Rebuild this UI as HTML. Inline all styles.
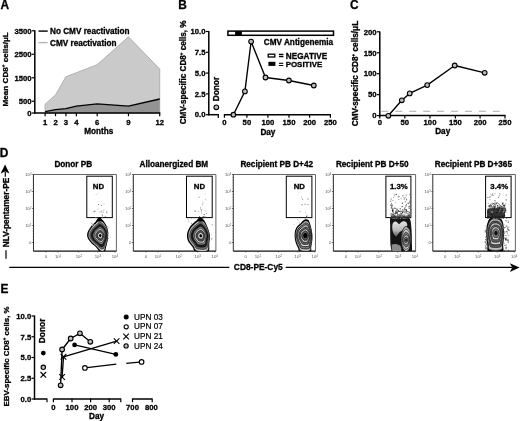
<!DOCTYPE html>
<html><head><meta charset="utf-8"><style>
html,body{margin:0;padding:0;background:#fff;}
svg{display:block;}
text{font-family:"Liberation Sans",sans-serif;}
text[font-weight=bold]{stroke:#000;stroke-width:0.3px;}
text[font-weight=normal]{stroke:#000;stroke-width:0.2px;}
</style></head><body>
<svg width="520" height="421" viewBox="0 0 520 421">
<defs><filter id="gs" x="0" y="0" width="100%" height="100%" color-interpolation-filters="sRGB"><feColorMatrix type="saturate" values="0"/></filter></defs>
<rect width="520" height="421" fill="#fff"/>
<g filter="url(#gs)">
<rect width="520" height="421" fill="#fff"/>
<text x="0.5" y="8.7" font-size="11.9" text-anchor="start" font-weight="bold" >A</text>
<polygon points="45.1,113 45.1,104.2 55.52,94.9 65.94,76.7 76.36,72.7 97.2,64.7 128.46,36.8 159.72,69.1 159.72,113" fill="#cacaca" stroke="#aaa" stroke-width="0.9" stroke-linejoin="round"/>
<polygon points="45.1,113 45.1,111.6 55.52,109.7 65.94,108.7 76.36,106.1 97.2,103.9 128.46,106.2 159.72,99 159.72,113" fill="#939393"/>
<polyline points="45.1,111.6 55.52,109.7 65.94,108.7 76.36,106.1 97.2,103.9 128.46,106.2 159.72,99" stroke="#000" stroke-width="1.3" fill="none" stroke-linejoin="round" />
<line x1="34.8" y1="30.2" x2="34.8" y2="113.6" stroke="#000" stroke-width="1.5" />
<line x1="34.2" y1="113" x2="160.32" y2="113" stroke="#000" stroke-width="1.5" />
<line x1="31.8" y1="30.75" x2="34.8" y2="30.75" stroke="#000" stroke-width="1.2" />
<text transform="translate(31.5,33.5) scale(1.0,1)" font-size="7.7" text-anchor="end" font-weight="bold" >3500</text>
<line x1="31.8" y1="54.25" x2="34.8" y2="54.25" stroke="#000" stroke-width="1.2" />
<text transform="translate(31.5,57) scale(1.0,1)" font-size="7.7" text-anchor="end" font-weight="bold" >2500</text>
<line x1="31.8" y1="77.75" x2="34.8" y2="77.75" stroke="#000" stroke-width="1.2" />
<text transform="translate(31.5,80.5) scale(1.0,1)" font-size="7.7" text-anchor="end" font-weight="bold" >1500</text>
<line x1="31.8" y1="101.25" x2="34.8" y2="101.25" stroke="#000" stroke-width="1.2" />
<text transform="translate(31.5,104) scale(1.0,1)" font-size="7.7" text-anchor="end" font-weight="bold" >500</text>
<line x1="31.8" y1="113" x2="34.8" y2="113" stroke="#000" stroke-width="1.2" />
<text transform="translate(31.5,115.75) scale(1.0,1)" font-size="7.7" text-anchor="end" font-weight="bold" >0</text>
<line x1="45.1" y1="113" x2="45.1" y2="116.2" stroke="#000" stroke-width="1.2" />
<text transform="translate(45.1,124.6) scale(1.0,1)" font-size="7.7" text-anchor="middle" font-weight="bold" >1</text>
<line x1="55.52" y1="113" x2="55.52" y2="116.2" stroke="#000" stroke-width="1.2" />
<text transform="translate(55.52,124.6) scale(1.0,1)" font-size="7.7" text-anchor="middle" font-weight="bold" >2</text>
<line x1="65.94" y1="113" x2="65.94" y2="116.2" stroke="#000" stroke-width="1.2" />
<text transform="translate(65.94,124.6) scale(1.0,1)" font-size="7.7" text-anchor="middle" font-weight="bold" >3</text>
<line x1="76.36" y1="113" x2="76.36" y2="116.2" stroke="#000" stroke-width="1.2" />
<text transform="translate(76.36,124.6) scale(1.0,1)" font-size="7.7" text-anchor="middle" font-weight="bold" >4</text>
<line x1="97.2" y1="113" x2="97.2" y2="116.2" stroke="#000" stroke-width="1.2" />
<text transform="translate(97.2,124.6) scale(1.0,1)" font-size="7.7" text-anchor="middle" font-weight="bold" >6</text>
<line x1="128.46" y1="113" x2="128.46" y2="116.2" stroke="#000" stroke-width="1.2" />
<text transform="translate(128.46,124.6) scale(1.0,1)" font-size="7.7" text-anchor="middle" font-weight="bold" >9</text>
<line x1="159.72" y1="113" x2="159.72" y2="116.2" stroke="#000" stroke-width="1.2" />
<text transform="translate(159.72,124.6) scale(1.0,1)" font-size="7.7" text-anchor="middle" font-weight="bold" >12</text>
<text x="98.8" y="133.8" font-size="8.2" text-anchor="middle" font-weight="bold" >Months</text>
<text transform="translate(8.3,69.3) rotate(-90)" font-size="8.1" text-anchor="middle" font-weight="bold">Mean CD8<tspan font-size="4.5" dy="-3">+</tspan><tspan dy="3"> </tspan>cells/μL</text>
<line x1="38.5" y1="31.1" x2="47.7" y2="31.1" stroke="#000" stroke-width="1.4" />
<line x1="38.5" y1="42.6" x2="47.7" y2="42.6" stroke="#b4b4b4" stroke-width="1.4" />
<text x="50" y="34.4" font-size="8.2" text-anchor="start" font-weight="bold" >No CMV reactivation</text>
<text x="50" y="45.9" font-size="8.2" text-anchor="start" font-weight="bold" >CMV reactivation</text>
<text x="178.3" y="8.7" font-size="11.9" text-anchor="start" font-weight="bold" >B</text>
<line x1="208.8" y1="31" x2="208.8" y2="115.3" stroke="#000" stroke-width="1.5" />
<line x1="205.8" y1="31.5" x2="208.8" y2="31.5" stroke="#000" stroke-width="1.2" />
<text transform="translate(205.5,34.25) scale(1.0,1)" font-size="7.7" text-anchor="end" font-weight="bold" >10.0</text>
<line x1="205.8" y1="52.3" x2="208.8" y2="52.3" stroke="#000" stroke-width="1.2" />
<text transform="translate(205.5,55.05) scale(1.0,1)" font-size="7.7" text-anchor="end" font-weight="bold" >7.5</text>
<line x1="205.8" y1="73.1" x2="208.8" y2="73.1" stroke="#000" stroke-width="1.2" />
<text transform="translate(205.5,75.85) scale(1.0,1)" font-size="7.7" text-anchor="end" font-weight="bold" >5.0</text>
<line x1="205.8" y1="93.9" x2="208.8" y2="93.9" stroke="#000" stroke-width="1.2" />
<text transform="translate(205.5,96.65) scale(1.0,1)" font-size="7.7" text-anchor="end" font-weight="bold" >2.5</text>
<line x1="205.8" y1="114.7" x2="208.8" y2="114.7" stroke="#000" stroke-width="1.2" />
<text transform="translate(205.5,117.45) scale(1.0,1)" font-size="7.7" text-anchor="end" font-weight="bold" >0.0</text>
<line x1="208.2" y1="114.7" x2="218.3" y2="114.7" stroke="#000" stroke-width="1.5" />
<line x1="218.3" y1="114.1" x2="218.3" y2="117.9" stroke="#000" stroke-width="1.2" />
<line x1="224.4" y1="114.7" x2="331" y2="114.7" stroke="#000" stroke-width="1.5" />
<line x1="224.4" y1="114.1" x2="224.4" y2="117.7" stroke="#000" stroke-width="1.2" />
<text transform="translate(224.4,125.3) scale(1.0,1)" font-size="7.7" text-anchor="middle" font-weight="bold" >0</text>
<line x1="246.9" y1="114.1" x2="246.9" y2="117.7" stroke="#000" stroke-width="1.2" />
<text transform="translate(246.9,125.3) scale(1.0,1)" font-size="7.7" text-anchor="middle" font-weight="bold" >50</text>
<line x1="267.9" y1="114.1" x2="267.9" y2="117.7" stroke="#000" stroke-width="1.2" />
<text transform="translate(267.9,125.3) scale(1.0,1)" font-size="7.7" text-anchor="middle" font-weight="bold" >100</text>
<line x1="289" y1="114.1" x2="289" y2="117.7" stroke="#000" stroke-width="1.2" />
<text transform="translate(289,125.3) scale(1.0,1)" font-size="7.7" text-anchor="middle" font-weight="bold" >150</text>
<line x1="309.6" y1="114.1" x2="309.6" y2="117.7" stroke="#000" stroke-width="1.2" />
<text transform="translate(309.6,125.3) scale(1.0,1)" font-size="7.7" text-anchor="middle" font-weight="bold" >200</text>
<line x1="330.4" y1="114.1" x2="330.4" y2="117.7" stroke="#000" stroke-width="1.2" />
<text transform="translate(330.4,125.3) scale(1.0,1)" font-size="7.7" text-anchor="middle" font-weight="bold" >250</text>
<text x="267.9" y="134.6" font-size="8.2" text-anchor="middle" font-weight="bold" >Day</text>
<text transform="translate(185.6,72.35) rotate(-90)" font-size="8.13" text-anchor="middle" font-weight="bold">CMV-specific CD8<tspan font-size="4.5" dy="-3">+</tspan><tspan dy="3"> </tspan>cells, %</text>
<text transform="translate(219.4,101.3) rotate(-90)" font-size="8.3" text-anchor="start" font-weight="bold">Donor</text>
<circle cx="216.3" cy="107.3" r="2.35" fill="#bdbdbd" stroke="#000" stroke-width="1.1"/>
<polyline points="233.4,114.7 244.9,91.4 251.1,41.6 265.5,77.5 288.9,80.5 313.8,85.5" stroke="#000" stroke-width="1.35" fill="none" stroke-linejoin="round" />
<circle cx="233.4" cy="114.7" r="2.35" fill="#bdbdbd" stroke="#000" stroke-width="1.1"/>
<circle cx="244.9" cy="91.4" r="2.35" fill="#bdbdbd" stroke="#000" stroke-width="1.1"/>
<circle cx="251.1" cy="41.6" r="2.35" fill="#bdbdbd" stroke="#000" stroke-width="1.1"/>
<circle cx="265.5" cy="77.5" r="2.35" fill="#bdbdbd" stroke="#000" stroke-width="1.1"/>
<circle cx="288.9" cy="80.5" r="2.35" fill="#bdbdbd" stroke="#000" stroke-width="1.1"/>
<circle cx="313.8" cy="85.5" r="2.35" fill="#bdbdbd" stroke="#000" stroke-width="1.1"/>
<rect x="227.9" y="31.1" width="105.6" height="4.2" fill="#fff" stroke="#000" stroke-width="1.5"/>
<rect x="235.1" y="31.1" width="6.8" height="4.2" fill="#000"/>
<text x="263.8" y="45" font-size="8.2" text-anchor="start" font-weight="bold" >CMV Antigenemia</text>
<rect x="268.2" y="54.2" width="6.6" height="2.8" fill="#fff" stroke="#000" stroke-width="1.3"/>
<rect x="268.4" y="61.8" width="7" height="4.1" fill="#000"/>
<text x="278.8" y="58.9" font-size="8.2" text-anchor="start" font-weight="bold" >= NEGATIVE</text>
<text x="278.8" y="66.7" font-size="7.95" text-anchor="start" font-weight="bold" >= POSITIVE</text>
<text x="350.1" y="8.7" font-size="11.9" text-anchor="start" font-weight="bold" >C</text>
<line x1="379.8" y1="31.4" x2="379.8" y2="116.4" stroke="#000" stroke-width="1.5" />
<line x1="376.8" y1="31.8" x2="379.8" y2="31.8" stroke="#000" stroke-width="1.2" />
<text transform="translate(376.5,34.55) scale(1.0,1)" font-size="7.7" text-anchor="end" font-weight="bold" >200</text>
<line x1="376.8" y1="52.75" x2="379.8" y2="52.75" stroke="#000" stroke-width="1.2" />
<text transform="translate(376.5,55.5) scale(1.0,1)" font-size="7.7" text-anchor="end" font-weight="bold" >150</text>
<line x1="376.8" y1="73.7" x2="379.8" y2="73.7" stroke="#000" stroke-width="1.2" />
<text transform="translate(376.5,76.45) scale(1.0,1)" font-size="7.7" text-anchor="end" font-weight="bold" >100</text>
<line x1="376.8" y1="94.65" x2="379.8" y2="94.65" stroke="#000" stroke-width="1.2" />
<text transform="translate(376.5,97.4) scale(1.0,1)" font-size="7.7" text-anchor="end" font-weight="bold" >50</text>
<line x1="376.8" y1="115.6" x2="379.8" y2="115.6" stroke="#000" stroke-width="1.2" />
<text transform="translate(376.5,118.35) scale(1.0,1)" font-size="7.7" text-anchor="end" font-weight="bold" >0</text>
<line x1="379.2" y1="115.6" x2="505.6" y2="115.6" stroke="#000" stroke-width="1.5" />
<line x1="379.8" y1="115.6" x2="379.8" y2="118.6" stroke="#000" stroke-width="1.2" />
<text transform="translate(379.8,125.3) scale(1.0,1)" font-size="7.7" text-anchor="middle" font-weight="bold" >0</text>
<line x1="404.8" y1="115.6" x2="404.8" y2="118.6" stroke="#000" stroke-width="1.2" />
<text transform="translate(404.8,125.3) scale(1.0,1)" font-size="7.7" text-anchor="middle" font-weight="bold" >50</text>
<line x1="430" y1="115.6" x2="430" y2="118.6" stroke="#000" stroke-width="1.2" />
<text transform="translate(430,125.3) scale(1.0,1)" font-size="7.7" text-anchor="middle" font-weight="bold" >100</text>
<line x1="455.4" y1="115.6" x2="455.4" y2="118.6" stroke="#000" stroke-width="1.2" />
<text transform="translate(455.4,125.3) scale(1.0,1)" font-size="7.7" text-anchor="middle" font-weight="bold" >150</text>
<line x1="480.1" y1="115.6" x2="480.1" y2="118.6" stroke="#000" stroke-width="1.2" />
<text transform="translate(480.1,125.3) scale(1.0,1)" font-size="7.7" text-anchor="middle" font-weight="bold" >200</text>
<line x1="505" y1="115.6" x2="505" y2="118.6" stroke="#000" stroke-width="1.2" />
<text transform="translate(505,125.3) scale(1.0,1)" font-size="7.7" text-anchor="middle" font-weight="bold" >250</text>
<text x="442.7" y="134.4" font-size="8.2" text-anchor="middle" font-weight="bold" >Day</text>
<line x1="381.4" y1="111.2" x2="500" y2="111.2" stroke="#aaa" stroke-width="1.1" stroke-dasharray="7 6.92"/>
<text transform="translate(358.1,73.55) rotate(-90)" font-size="8.22" text-anchor="middle" font-weight="bold">CMV-specific CD8<tspan font-size="4.5" dy="-3">+</tspan><tspan dy="3"> </tspan>cells/μL</text>
<polyline points="388.3,115.8 401.8,100.3 409.7,93.4 427.2,85.1 454.7,65.5 484.7,72.8" stroke="#000" stroke-width="1.35" fill="none" stroke-linejoin="round" />
<circle cx="388.3" cy="115.8" r="2.35" fill="#bdbdbd" stroke="#000" stroke-width="1.1"/>
<circle cx="401.8" cy="100.3" r="2.35" fill="#bdbdbd" stroke="#000" stroke-width="1.1"/>
<circle cx="409.7" cy="93.4" r="2.35" fill="#bdbdbd" stroke="#000" stroke-width="1.1"/>
<circle cx="427.2" cy="85.1" r="2.35" fill="#bdbdbd" stroke="#000" stroke-width="1.1"/>
<circle cx="454.7" cy="65.5" r="2.35" fill="#bdbdbd" stroke="#000" stroke-width="1.1"/>
<circle cx="484.7" cy="72.8" r="2.35" fill="#bdbdbd" stroke="#000" stroke-width="1.1"/>
<text x="-0.3" y="156.9" font-size="11.9" text-anchor="start" font-weight="bold" >D</text>
<polygon points="5.1,164.6 0.6,173.6 5.1,171.6 9.4,173.6" fill="#000"/>
<line x1="5.3" y1="172" x2="5.3" y2="176.8" stroke="#000" stroke-width="1.2" />
<line x1="6" y1="250.3" x2="6" y2="258.8" stroke="#000" stroke-width="1.2" />
<text transform="translate(8.7,212.5) rotate(-90)" font-size="8.3" text-anchor="middle" font-weight="bold">NLV-pentamer-PE</text>
<line x1="9.3" y1="267.4" x2="229.3" y2="267.4" stroke="#000" stroke-width="1.3" />
<line x1="285.7" y1="267.4" x2="512" y2="267.4" stroke="#000" stroke-width="1.3" />
<polygon points="519.6,267.6 509.8,263.2 512.3,267.6 509.8,272" fill="#000"/>
<text x="258.3" y="270.4" font-size="8.4" text-anchor="middle" font-weight="bold" >CD8-PE-Cy5</text>
<path d="M33.5,174.5 H116.4 V251.2" fill="none" stroke="#666" stroke-width="1"/>
<path d="M33.5,174.5 V251.2" fill="none" stroke="#333" stroke-width="1.0"/>
<path d="M33.5,251.2 H116.4" fill="none" stroke="#111" stroke-width="1.2"/>
<text x="73.3" y="167.1" font-size="8.2" text-anchor="middle" font-weight="bold" >Donor PB</text>
<rect x="86.8" y="176.2" width="25.5" height="41.4" fill="none" stroke="#000" stroke-width="1"/>
<text x="98.4" y="188.6" font-size="7.8" text-anchor="middle" font-weight="bold" >ND</text>
<text x="31.5" y="175.9" font-size="4.3" text-anchor="end" fill="#555">10<tspan dy="-1" font-size="2.8">4</tspan></text>
<line x1="32.2" y1="174.5" x2="33.5" y2="174.5" stroke="#333" stroke-width="0.8" />
<line x1="32.6" y1="177.35" x2="33.5" y2="177.35" stroke="#555" stroke-width="0.6" />
<line x1="32.6" y1="180.2" x2="33.5" y2="180.2" stroke="#555" stroke-width="0.6" />
<line x1="32.6" y1="183.05" x2="33.5" y2="183.05" stroke="#555" stroke-width="0.6" />
<line x1="32.6" y1="185.9" x2="33.5" y2="185.9" stroke="#555" stroke-width="0.6" />
<line x1="32.6" y1="188.75" x2="33.5" y2="188.75" stroke="#555" stroke-width="0.6" />
<text x="31.5" y="192.9" font-size="4.3" text-anchor="end" fill="#555">10<tspan dy="-1" font-size="2.8">3</tspan></text>
<line x1="32.2" y1="191.5" x2="33.5" y2="191.5" stroke="#333" stroke-width="0.8" />
<line x1="32.6" y1="194.35" x2="33.5" y2="194.35" stroke="#555" stroke-width="0.6" />
<line x1="32.6" y1="197.2" x2="33.5" y2="197.2" stroke="#555" stroke-width="0.6" />
<line x1="32.6" y1="200.05" x2="33.5" y2="200.05" stroke="#555" stroke-width="0.6" />
<line x1="32.6" y1="202.9" x2="33.5" y2="202.9" stroke="#555" stroke-width="0.6" />
<line x1="32.6" y1="205.75" x2="33.5" y2="205.75" stroke="#555" stroke-width="0.6" />
<text x="31.5" y="209.9" font-size="4.3" text-anchor="end" fill="#555">10<tspan dy="-1" font-size="2.8">2</tspan></text>
<line x1="32.2" y1="208.5" x2="33.5" y2="208.5" stroke="#333" stroke-width="0.8" />
<line x1="32.6" y1="211.35" x2="33.5" y2="211.35" stroke="#555" stroke-width="0.6" />
<line x1="32.6" y1="214.2" x2="33.5" y2="214.2" stroke="#555" stroke-width="0.6" />
<line x1="32.6" y1="217.05" x2="33.5" y2="217.05" stroke="#555" stroke-width="0.6" />
<line x1="32.6" y1="219.9" x2="33.5" y2="219.9" stroke="#555" stroke-width="0.6" />
<line x1="32.6" y1="222.75" x2="33.5" y2="222.75" stroke="#555" stroke-width="0.6" />
<text x="31.5" y="226.9" font-size="4.3" text-anchor="end" fill="#555">10<tspan dy="-1" font-size="2.8">1</tspan></text>
<line x1="32.2" y1="225.5" x2="33.5" y2="225.5" stroke="#333" stroke-width="0.8" />
<line x1="32.6" y1="228.35" x2="33.5" y2="228.35" stroke="#555" stroke-width="0.6" />
<line x1="32.6" y1="231.2" x2="33.5" y2="231.2" stroke="#555" stroke-width="0.6" />
<line x1="32.6" y1="234.05" x2="33.5" y2="234.05" stroke="#555" stroke-width="0.6" />
<line x1="32.6" y1="236.9" x2="33.5" y2="236.9" stroke="#555" stroke-width="0.6" />
<line x1="32.6" y1="239.75" x2="33.5" y2="239.75" stroke="#555" stroke-width="0.6" />
<text x="31.5" y="243.9" font-size="4.3" text-anchor="end" fill="#555">0</text>
<line x1="32.2" y1="242.5" x2="33.5" y2="242.5" stroke="#333" stroke-width="0.8" />
<text x="46" y="258.0" font-size="4.3" text-anchor="middle" fill="#555">0</text>
<line x1="46" y1="251.2" x2="46" y2="252.4" stroke="#333" stroke-width="0.8" />
<text x="58.1" y="258.0" font-size="4.3" text-anchor="middle" fill="#555">10<tspan dy="-1" font-size="2.8">1</tspan></text>
<line x1="58.1" y1="251.2" x2="58.1" y2="252.4" stroke="#333" stroke-width="0.8" />
<text x="78.9" y="258.0" font-size="4.3" text-anchor="middle" fill="#555">10<tspan dy="-1" font-size="2.8">2</tspan></text>
<line x1="78.9" y1="251.2" x2="78.9" y2="252.4" stroke="#333" stroke-width="0.8" />
<text x="97.9" y="258.0" font-size="4.3" text-anchor="middle" fill="#555">10<tspan dy="-1" font-size="2.8">3</tspan></text>
<line x1="97.9" y1="251.2" x2="97.9" y2="252.4" stroke="#333" stroke-width="0.8" />
<text x="114.9" y="258.0" font-size="4.3" text-anchor="middle" fill="#555">10<tspan dy="-1" font-size="2.8">4</tspan></text>
<line x1="114.9" y1="251.2" x2="114.9" y2="252.4" stroke="#333" stroke-width="0.8" />
<path d="M133.35,174.5 H215.9 V251.2" fill="none" stroke="#666" stroke-width="1"/>
<path d="M133.35,174.5 V251.2" fill="none" stroke="#333" stroke-width="1.0"/>
<path d="M133.35,251.2 H215.9" fill="none" stroke="#111" stroke-width="1.2"/>
<text x="173.85" y="167.1" font-size="8.2" text-anchor="middle" font-weight="bold" >Alloanergized BM</text>
<rect x="186.5" y="176.2" width="25.7" height="41.4" fill="none" stroke="#000" stroke-width="1"/>
<text x="199.4" y="188.6" font-size="7.8" text-anchor="middle" font-weight="bold" >ND</text>
<text x="131.35" y="175.9" font-size="4.3" text-anchor="end" fill="#555">10<tspan dy="-1" font-size="2.8">4</tspan></text>
<line x1="132.05" y1="174.5" x2="133.35" y2="174.5" stroke="#333" stroke-width="0.8" />
<line x1="132.45" y1="177.35" x2="133.35" y2="177.35" stroke="#555" stroke-width="0.6" />
<line x1="132.45" y1="180.2" x2="133.35" y2="180.2" stroke="#555" stroke-width="0.6" />
<line x1="132.45" y1="183.05" x2="133.35" y2="183.05" stroke="#555" stroke-width="0.6" />
<line x1="132.45" y1="185.9" x2="133.35" y2="185.9" stroke="#555" stroke-width="0.6" />
<line x1="132.45" y1="188.75" x2="133.35" y2="188.75" stroke="#555" stroke-width="0.6" />
<text x="131.35" y="192.9" font-size="4.3" text-anchor="end" fill="#555">10<tspan dy="-1" font-size="2.8">3</tspan></text>
<line x1="132.05" y1="191.5" x2="133.35" y2="191.5" stroke="#333" stroke-width="0.8" />
<line x1="132.45" y1="194.35" x2="133.35" y2="194.35" stroke="#555" stroke-width="0.6" />
<line x1="132.45" y1="197.2" x2="133.35" y2="197.2" stroke="#555" stroke-width="0.6" />
<line x1="132.45" y1="200.05" x2="133.35" y2="200.05" stroke="#555" stroke-width="0.6" />
<line x1="132.45" y1="202.9" x2="133.35" y2="202.9" stroke="#555" stroke-width="0.6" />
<line x1="132.45" y1="205.75" x2="133.35" y2="205.75" stroke="#555" stroke-width="0.6" />
<text x="131.35" y="209.9" font-size="4.3" text-anchor="end" fill="#555">10<tspan dy="-1" font-size="2.8">2</tspan></text>
<line x1="132.05" y1="208.5" x2="133.35" y2="208.5" stroke="#333" stroke-width="0.8" />
<line x1="132.45" y1="211.35" x2="133.35" y2="211.35" stroke="#555" stroke-width="0.6" />
<line x1="132.45" y1="214.2" x2="133.35" y2="214.2" stroke="#555" stroke-width="0.6" />
<line x1="132.45" y1="217.05" x2="133.35" y2="217.05" stroke="#555" stroke-width="0.6" />
<line x1="132.45" y1="219.9" x2="133.35" y2="219.9" stroke="#555" stroke-width="0.6" />
<line x1="132.45" y1="222.75" x2="133.35" y2="222.75" stroke="#555" stroke-width="0.6" />
<text x="131.35" y="226.9" font-size="4.3" text-anchor="end" fill="#555">10<tspan dy="-1" font-size="2.8">1</tspan></text>
<line x1="132.05" y1="225.5" x2="133.35" y2="225.5" stroke="#333" stroke-width="0.8" />
<line x1="132.45" y1="228.35" x2="133.35" y2="228.35" stroke="#555" stroke-width="0.6" />
<line x1="132.45" y1="231.2" x2="133.35" y2="231.2" stroke="#555" stroke-width="0.6" />
<line x1="132.45" y1="234.05" x2="133.35" y2="234.05" stroke="#555" stroke-width="0.6" />
<line x1="132.45" y1="236.9" x2="133.35" y2="236.9" stroke="#555" stroke-width="0.6" />
<line x1="132.45" y1="239.75" x2="133.35" y2="239.75" stroke="#555" stroke-width="0.6" />
<text x="131.35" y="243.9" font-size="4.3" text-anchor="end" fill="#555">0</text>
<line x1="132.05" y1="242.5" x2="133.35" y2="242.5" stroke="#333" stroke-width="0.8" />
<text x="145.85" y="258.0" font-size="4.3" text-anchor="middle" fill="#555">0</text>
<line x1="145.85" y1="251.2" x2="145.85" y2="252.4" stroke="#333" stroke-width="0.8" />
<text x="157.95" y="258.0" font-size="4.3" text-anchor="middle" fill="#555">10<tspan dy="-1" font-size="2.8">1</tspan></text>
<line x1="157.95" y1="251.2" x2="157.95" y2="252.4" stroke="#333" stroke-width="0.8" />
<text x="178.75" y="258.0" font-size="4.3" text-anchor="middle" fill="#555">10<tspan dy="-1" font-size="2.8">2</tspan></text>
<line x1="178.75" y1="251.2" x2="178.75" y2="252.4" stroke="#333" stroke-width="0.8" />
<text x="197.75" y="258.0" font-size="4.3" text-anchor="middle" fill="#555">10<tspan dy="-1" font-size="2.8">3</tspan></text>
<line x1="197.75" y1="251.2" x2="197.75" y2="252.4" stroke="#333" stroke-width="0.8" />
<text x="214.75" y="258.0" font-size="4.3" text-anchor="middle" fill="#555">10<tspan dy="-1" font-size="2.8">4</tspan></text>
<line x1="214.75" y1="251.2" x2="214.75" y2="252.4" stroke="#333" stroke-width="0.8" />
<path d="M233.3,174.5 H315.5 V251.2" fill="none" stroke="#666" stroke-width="1"/>
<path d="M233.3,174.5 V251.2" fill="none" stroke="#333" stroke-width="1.0"/>
<path d="M233.3,251.2 H315.5" fill="none" stroke="#111" stroke-width="1.2"/>
<text x="276.7" y="167.1" font-size="8.2" text-anchor="middle" font-weight="bold" >Recipient PB D+42</text>
<rect x="286.3" y="176.2" width="25.6" height="41.4" fill="none" stroke="#000" stroke-width="1"/>
<text x="299.3" y="188.6" font-size="7.8" text-anchor="middle" font-weight="bold" >ND</text>
<text x="231.3" y="175.9" font-size="4.3" text-anchor="end" fill="#555">10<tspan dy="-1" font-size="2.8">4</tspan></text>
<line x1="232" y1="174.5" x2="233.3" y2="174.5" stroke="#333" stroke-width="0.8" />
<line x1="232.4" y1="177.35" x2="233.3" y2="177.35" stroke="#555" stroke-width="0.6" />
<line x1="232.4" y1="180.2" x2="233.3" y2="180.2" stroke="#555" stroke-width="0.6" />
<line x1="232.4" y1="183.05" x2="233.3" y2="183.05" stroke="#555" stroke-width="0.6" />
<line x1="232.4" y1="185.9" x2="233.3" y2="185.9" stroke="#555" stroke-width="0.6" />
<line x1="232.4" y1="188.75" x2="233.3" y2="188.75" stroke="#555" stroke-width="0.6" />
<text x="231.3" y="192.9" font-size="4.3" text-anchor="end" fill="#555">10<tspan dy="-1" font-size="2.8">3</tspan></text>
<line x1="232" y1="191.5" x2="233.3" y2="191.5" stroke="#333" stroke-width="0.8" />
<line x1="232.4" y1="194.35" x2="233.3" y2="194.35" stroke="#555" stroke-width="0.6" />
<line x1="232.4" y1="197.2" x2="233.3" y2="197.2" stroke="#555" stroke-width="0.6" />
<line x1="232.4" y1="200.05" x2="233.3" y2="200.05" stroke="#555" stroke-width="0.6" />
<line x1="232.4" y1="202.9" x2="233.3" y2="202.9" stroke="#555" stroke-width="0.6" />
<line x1="232.4" y1="205.75" x2="233.3" y2="205.75" stroke="#555" stroke-width="0.6" />
<text x="231.3" y="209.9" font-size="4.3" text-anchor="end" fill="#555">10<tspan dy="-1" font-size="2.8">2</tspan></text>
<line x1="232" y1="208.5" x2="233.3" y2="208.5" stroke="#333" stroke-width="0.8" />
<line x1="232.4" y1="211.35" x2="233.3" y2="211.35" stroke="#555" stroke-width="0.6" />
<line x1="232.4" y1="214.2" x2="233.3" y2="214.2" stroke="#555" stroke-width="0.6" />
<line x1="232.4" y1="217.05" x2="233.3" y2="217.05" stroke="#555" stroke-width="0.6" />
<line x1="232.4" y1="219.9" x2="233.3" y2="219.9" stroke="#555" stroke-width="0.6" />
<line x1="232.4" y1="222.75" x2="233.3" y2="222.75" stroke="#555" stroke-width="0.6" />
<text x="231.3" y="226.9" font-size="4.3" text-anchor="end" fill="#555">10<tspan dy="-1" font-size="2.8">1</tspan></text>
<line x1="232" y1="225.5" x2="233.3" y2="225.5" stroke="#333" stroke-width="0.8" />
<line x1="232.4" y1="228.35" x2="233.3" y2="228.35" stroke="#555" stroke-width="0.6" />
<line x1="232.4" y1="231.2" x2="233.3" y2="231.2" stroke="#555" stroke-width="0.6" />
<line x1="232.4" y1="234.05" x2="233.3" y2="234.05" stroke="#555" stroke-width="0.6" />
<line x1="232.4" y1="236.9" x2="233.3" y2="236.9" stroke="#555" stroke-width="0.6" />
<line x1="232.4" y1="239.75" x2="233.3" y2="239.75" stroke="#555" stroke-width="0.6" />
<text x="231.3" y="243.9" font-size="4.3" text-anchor="end" fill="#555">0</text>
<line x1="232" y1="242.5" x2="233.3" y2="242.5" stroke="#333" stroke-width="0.8" />
<text x="245.8" y="258.0" font-size="4.3" text-anchor="middle" fill="#555">0</text>
<line x1="245.8" y1="251.2" x2="245.8" y2="252.4" stroke="#333" stroke-width="0.8" />
<text x="257.9" y="258.0" font-size="4.3" text-anchor="middle" fill="#555">10<tspan dy="-1" font-size="2.8">1</tspan></text>
<line x1="257.9" y1="251.2" x2="257.9" y2="252.4" stroke="#333" stroke-width="0.8" />
<text x="278.7" y="258.0" font-size="4.3" text-anchor="middle" fill="#555">10<tspan dy="-1" font-size="2.8">2</tspan></text>
<line x1="278.7" y1="251.2" x2="278.7" y2="252.4" stroke="#333" stroke-width="0.8" />
<text x="297.7" y="258.0" font-size="4.3" text-anchor="middle" fill="#555">10<tspan dy="-1" font-size="2.8">3</tspan></text>
<line x1="297.7" y1="251.2" x2="297.7" y2="252.4" stroke="#333" stroke-width="0.8" />
<text x="314.7" y="258.0" font-size="4.3" text-anchor="middle" fill="#555">10<tspan dy="-1" font-size="2.8">4</tspan></text>
<line x1="314.7" y1="251.2" x2="314.7" y2="252.4" stroke="#333" stroke-width="0.8" />
<path d="M333.4,174.5 H415.6 V251.2" fill="none" stroke="#666" stroke-width="1"/>
<path d="M333.4,174.5 V251.2" fill="none" stroke="#333" stroke-width="1.0"/>
<path d="M333.4,251.2 H415.6" fill="none" stroke="#111" stroke-width="1.2"/>
<text x="372.2" y="167.1" font-size="8.2" text-anchor="middle" font-weight="bold" >Recipient PB D+50</text>
<rect x="385.9" y="176.2" width="25" height="41.4" fill="none" stroke="#000" stroke-width="1"/>
<text x="398.9" y="188.6" font-size="7.8" text-anchor="middle" font-weight="bold" >1.3%</text>
<text x="331.4" y="175.9" font-size="4.3" text-anchor="end" fill="#555">10<tspan dy="-1" font-size="2.8">4</tspan></text>
<line x1="332.1" y1="174.5" x2="333.4" y2="174.5" stroke="#333" stroke-width="0.8" />
<line x1="332.5" y1="177.35" x2="333.4" y2="177.35" stroke="#555" stroke-width="0.6" />
<line x1="332.5" y1="180.2" x2="333.4" y2="180.2" stroke="#555" stroke-width="0.6" />
<line x1="332.5" y1="183.05" x2="333.4" y2="183.05" stroke="#555" stroke-width="0.6" />
<line x1="332.5" y1="185.9" x2="333.4" y2="185.9" stroke="#555" stroke-width="0.6" />
<line x1="332.5" y1="188.75" x2="333.4" y2="188.75" stroke="#555" stroke-width="0.6" />
<text x="331.4" y="192.9" font-size="4.3" text-anchor="end" fill="#555">10<tspan dy="-1" font-size="2.8">3</tspan></text>
<line x1="332.1" y1="191.5" x2="333.4" y2="191.5" stroke="#333" stroke-width="0.8" />
<line x1="332.5" y1="194.35" x2="333.4" y2="194.35" stroke="#555" stroke-width="0.6" />
<line x1="332.5" y1="197.2" x2="333.4" y2="197.2" stroke="#555" stroke-width="0.6" />
<line x1="332.5" y1="200.05" x2="333.4" y2="200.05" stroke="#555" stroke-width="0.6" />
<line x1="332.5" y1="202.9" x2="333.4" y2="202.9" stroke="#555" stroke-width="0.6" />
<line x1="332.5" y1="205.75" x2="333.4" y2="205.75" stroke="#555" stroke-width="0.6" />
<text x="331.4" y="209.9" font-size="4.3" text-anchor="end" fill="#555">10<tspan dy="-1" font-size="2.8">2</tspan></text>
<line x1="332.1" y1="208.5" x2="333.4" y2="208.5" stroke="#333" stroke-width="0.8" />
<line x1="332.5" y1="211.35" x2="333.4" y2="211.35" stroke="#555" stroke-width="0.6" />
<line x1="332.5" y1="214.2" x2="333.4" y2="214.2" stroke="#555" stroke-width="0.6" />
<line x1="332.5" y1="217.05" x2="333.4" y2="217.05" stroke="#555" stroke-width="0.6" />
<line x1="332.5" y1="219.9" x2="333.4" y2="219.9" stroke="#555" stroke-width="0.6" />
<line x1="332.5" y1="222.75" x2="333.4" y2="222.75" stroke="#555" stroke-width="0.6" />
<text x="331.4" y="226.9" font-size="4.3" text-anchor="end" fill="#555">10<tspan dy="-1" font-size="2.8">1</tspan></text>
<line x1="332.1" y1="225.5" x2="333.4" y2="225.5" stroke="#333" stroke-width="0.8" />
<line x1="332.5" y1="228.35" x2="333.4" y2="228.35" stroke="#555" stroke-width="0.6" />
<line x1="332.5" y1="231.2" x2="333.4" y2="231.2" stroke="#555" stroke-width="0.6" />
<line x1="332.5" y1="234.05" x2="333.4" y2="234.05" stroke="#555" stroke-width="0.6" />
<line x1="332.5" y1="236.9" x2="333.4" y2="236.9" stroke="#555" stroke-width="0.6" />
<line x1="332.5" y1="239.75" x2="333.4" y2="239.75" stroke="#555" stroke-width="0.6" />
<text x="331.4" y="243.9" font-size="4.3" text-anchor="end" fill="#555">0</text>
<line x1="332.1" y1="242.5" x2="333.4" y2="242.5" stroke="#333" stroke-width="0.8" />
<text x="345.9" y="258.0" font-size="4.3" text-anchor="middle" fill="#555">0</text>
<line x1="345.9" y1="251.2" x2="345.9" y2="252.4" stroke="#333" stroke-width="0.8" />
<text x="358" y="258.0" font-size="4.3" text-anchor="middle" fill="#555">10<tspan dy="-1" font-size="2.8">1</tspan></text>
<line x1="358" y1="251.2" x2="358" y2="252.4" stroke="#333" stroke-width="0.8" />
<text x="378.8" y="258.0" font-size="4.3" text-anchor="middle" fill="#555">10<tspan dy="-1" font-size="2.8">2</tspan></text>
<line x1="378.8" y1="251.2" x2="378.8" y2="252.4" stroke="#333" stroke-width="0.8" />
<text x="397.8" y="258.0" font-size="4.3" text-anchor="middle" fill="#555">10<tspan dy="-1" font-size="2.8">3</tspan></text>
<line x1="397.8" y1="251.2" x2="397.8" y2="252.4" stroke="#333" stroke-width="0.8" />
<text x="414.8" y="258.0" font-size="4.3" text-anchor="middle" fill="#555">10<tspan dy="-1" font-size="2.8">4</tspan></text>
<line x1="414.8" y1="251.2" x2="414.8" y2="252.4" stroke="#333" stroke-width="0.8" />
<path d="M432.8,174.5 H515.4 V251.2" fill="none" stroke="#666" stroke-width="1"/>
<path d="M432.8,174.5 V251.2" fill="none" stroke="#333" stroke-width="1.0"/>
<path d="M432.8,251.2 H515.4" fill="none" stroke="#111" stroke-width="1.2"/>
<text x="473.4" y="167.1" font-size="8.2" text-anchor="middle" font-weight="bold" >Recipient PB D+365</text>
<rect x="485.6" y="176.2" width="25.5" height="41.4" fill="none" stroke="#000" stroke-width="1"/>
<text x="499.2" y="188.6" font-size="7.8" text-anchor="middle" font-weight="bold" >3.4%</text>
<text x="430.8" y="175.9" font-size="4.3" text-anchor="end" fill="#555">10<tspan dy="-1" font-size="2.8">4</tspan></text>
<line x1="431.5" y1="174.5" x2="432.8" y2="174.5" stroke="#333" stroke-width="0.8" />
<line x1="431.9" y1="177.35" x2="432.8" y2="177.35" stroke="#555" stroke-width="0.6" />
<line x1="431.9" y1="180.2" x2="432.8" y2="180.2" stroke="#555" stroke-width="0.6" />
<line x1="431.9" y1="183.05" x2="432.8" y2="183.05" stroke="#555" stroke-width="0.6" />
<line x1="431.9" y1="185.9" x2="432.8" y2="185.9" stroke="#555" stroke-width="0.6" />
<line x1="431.9" y1="188.75" x2="432.8" y2="188.75" stroke="#555" stroke-width="0.6" />
<text x="430.8" y="192.9" font-size="4.3" text-anchor="end" fill="#555">10<tspan dy="-1" font-size="2.8">3</tspan></text>
<line x1="431.5" y1="191.5" x2="432.8" y2="191.5" stroke="#333" stroke-width="0.8" />
<line x1="431.9" y1="194.35" x2="432.8" y2="194.35" stroke="#555" stroke-width="0.6" />
<line x1="431.9" y1="197.2" x2="432.8" y2="197.2" stroke="#555" stroke-width="0.6" />
<line x1="431.9" y1="200.05" x2="432.8" y2="200.05" stroke="#555" stroke-width="0.6" />
<line x1="431.9" y1="202.9" x2="432.8" y2="202.9" stroke="#555" stroke-width="0.6" />
<line x1="431.9" y1="205.75" x2="432.8" y2="205.75" stroke="#555" stroke-width="0.6" />
<text x="430.8" y="209.9" font-size="4.3" text-anchor="end" fill="#555">10<tspan dy="-1" font-size="2.8">2</tspan></text>
<line x1="431.5" y1="208.5" x2="432.8" y2="208.5" stroke="#333" stroke-width="0.8" />
<line x1="431.9" y1="211.35" x2="432.8" y2="211.35" stroke="#555" stroke-width="0.6" />
<line x1="431.9" y1="214.2" x2="432.8" y2="214.2" stroke="#555" stroke-width="0.6" />
<line x1="431.9" y1="217.05" x2="432.8" y2="217.05" stroke="#555" stroke-width="0.6" />
<line x1="431.9" y1="219.9" x2="432.8" y2="219.9" stroke="#555" stroke-width="0.6" />
<line x1="431.9" y1="222.75" x2="432.8" y2="222.75" stroke="#555" stroke-width="0.6" />
<text x="430.8" y="226.9" font-size="4.3" text-anchor="end" fill="#555">10<tspan dy="-1" font-size="2.8">1</tspan></text>
<line x1="431.5" y1="225.5" x2="432.8" y2="225.5" stroke="#333" stroke-width="0.8" />
<line x1="431.9" y1="228.35" x2="432.8" y2="228.35" stroke="#555" stroke-width="0.6" />
<line x1="431.9" y1="231.2" x2="432.8" y2="231.2" stroke="#555" stroke-width="0.6" />
<line x1="431.9" y1="234.05" x2="432.8" y2="234.05" stroke="#555" stroke-width="0.6" />
<line x1="431.9" y1="236.9" x2="432.8" y2="236.9" stroke="#555" stroke-width="0.6" />
<line x1="431.9" y1="239.75" x2="432.8" y2="239.75" stroke="#555" stroke-width="0.6" />
<text x="430.8" y="243.9" font-size="4.3" text-anchor="end" fill="#555">0</text>
<line x1="431.5" y1="242.5" x2="432.8" y2="242.5" stroke="#333" stroke-width="0.8" />
<text x="445.3" y="258.0" font-size="4.3" text-anchor="middle" fill="#555">0</text>
<line x1="445.3" y1="251.2" x2="445.3" y2="252.4" stroke="#333" stroke-width="0.8" />
<text x="457.4" y="258.0" font-size="4.3" text-anchor="middle" fill="#555">10<tspan dy="-1" font-size="2.8">1</tspan></text>
<line x1="457.4" y1="251.2" x2="457.4" y2="252.4" stroke="#333" stroke-width="0.8" />
<text x="478.2" y="258.0" font-size="4.3" text-anchor="middle" fill="#555">10<tspan dy="-1" font-size="2.8">2</tspan></text>
<line x1="478.2" y1="251.2" x2="478.2" y2="252.4" stroke="#333" stroke-width="0.8" />
<text x="497.2" y="258.0" font-size="4.3" text-anchor="middle" fill="#555">10<tspan dy="-1" font-size="2.8">3</tspan></text>
<line x1="497.2" y1="251.2" x2="497.2" y2="252.4" stroke="#333" stroke-width="0.8" />
<text x="514.2" y="258.0" font-size="4.3" text-anchor="middle" fill="#555">10<tspan dy="-1" font-size="2.8">4</tspan></text>
<line x1="514.2" y1="251.2" x2="514.2" y2="252.4" stroke="#333" stroke-width="0.8" />
<defs><clipPath id="cp0"><rect x="33.5" y="174.5" width="82.9" height="76.7"/></clipPath><clipPath id="cp1"><rect x="133.35" y="174.5" width="82.55" height="76.7"/></clipPath><clipPath id="cp2"><rect x="233.3" y="174.5" width="82.2" height="76.7"/></clipPath><clipPath id="cp3"><rect x="333.4" y="174.5" width="82.2" height="76.7"/></clipPath><clipPath id="cp4"><rect x="432.8" y="174.5" width="82.6" height="76.7"/></clipPath></defs>
<g clip-path="url(#cp0)">
<path d="M99.3,218.2 C99.95,218.15 100.8,218.73 101.5,219.2 C102.2,219.67 102.65,219.88 103.5,221 C104.35,222.12 105.82,223.98 106.6,225.9 C107.38,227.82 108.03,230.02 108.2,232.5 C108.37,234.98 107.97,238.3 107.6,240.8 C107.23,243.3 106.52,245.55 106,247.5 C105.48,249.45 105.42,251.67 104.5,252.5 C103.58,253.33 101.95,253.42 100.5,252.5 C99.05,251.58 97.42,248.67 95.8,247 C94.18,245.33 92.18,244.08 90.8,242.5 C89.42,240.92 88.05,239.17 87.5,237.5 C86.95,235.83 86.95,234.3 87.5,232.5 C88.05,230.7 89.45,228.48 90.8,226.7 C92.15,224.92 94.47,223 95.6,221.8 C96.73,220.6 96.98,220.1 97.6,219.5 C98.22,218.9 98.65,218.25 99.3,218.2 Z" fill="#000" stroke="none" stroke-width="0"/>
<path d="M99.42,220.19 C99.99,220.15 100.74,220.63 101.37,221.02 C101.99,221.41 102.38,221.58 103.16,222.53 C103.94,223.48 105.29,225.04 106.06,226.73 C106.82,228.42 107.58,230.38 107.76,232.67 C107.94,234.96 107.53,238.19 107.14,240.47 C106.76,242.74 105.96,244.65 105.44,246.33 C104.92,248 104.84,249.83 104.01,250.53 C103.19,251.24 101.78,251.33 100.48,250.56 C99.18,249.8 97.69,247.39 96.21,245.94 C94.74,244.49 92.89,243.32 91.64,241.88 C90.39,240.44 89.21,238.82 88.73,237.31 C88.24,235.79 88.24,234.42 88.74,232.79 C89.24,231.16 90.49,229.14 91.71,227.54 C92.93,225.95 95.06,224.27 96.09,223.22 C97.12,222.18 97.35,221.78 97.9,221.28 C98.45,220.77 98.84,220.23 99.42,220.19 Z" fill="#d8d8d8" stroke="#000" stroke-width="0.4"/>
<path d="M99.53,222.12 C100.03,222.09 100.68,222.48 101.24,222.8 C101.79,223.12 102.12,223.25 102.83,224.04 C103.54,224.84 104.76,226.11 105.5,227.58 C106.23,229.05 107.06,230.78 107.25,232.86 C107.44,234.95 107.02,238.04 106.62,240.09 C106.23,242.14 105.4,243.73 104.88,245.15 C104.37,246.57 104.28,248.04 103.54,248.63 C102.81,249.21 101.61,249.3 100.46,248.68 C99.3,248.05 97.96,246.1 96.64,244.86 C95.31,243.62 93.62,242.54 92.5,241.24 C91.39,239.95 90.38,238.47 89.97,237.11 C89.55,235.75 89.55,234.54 89.99,233.08 C90.44,231.63 91.53,229.8 92.63,228.39 C93.73,226.99 95.65,225.53 96.57,224.64 C97.5,223.74 97.7,223.44 98.19,223.02 C98.69,222.6 99.02,222.16 99.53,222.12 Z" fill="#6a6a6a" stroke="#000" stroke-width="0.5"/>
<path d="M99.66,224.37 C100.08,224.34 100.62,224.63 101.08,224.88 C101.54,225.12 101.81,225.21 102.43,225.84 C103.05,226.46 104.11,227.43 104.8,228.65 C105.48,229.87 106.34,231.31 106.53,233.14 C106.71,234.96 106.31,237.82 105.92,239.58 C105.54,241.35 104.69,242.59 104.21,243.73 C103.72,244.86 103.63,245.96 103,246.42 C102.37,246.88 101.4,246.96 100.43,246.49 C99.46,246.01 98.3,244.54 97.15,243.54 C96.01,242.53 94.52,241.57 93.57,240.46 C92.63,239.35 91.81,238.05 91.47,236.88 C91.12,235.71 91.12,234.68 91.5,233.44 C91.88,232.2 92.8,230.61 93.74,229.43 C94.69,228.24 96.35,227.04 97.15,226.31 C97.95,225.58 98.12,225.38 98.54,225.05 C98.96,224.73 99.23,224.4 99.66,224.37 Z" fill="#1a1a1a" stroke="#000" stroke-width="0.5"/>
<path d="M99.78,226.53 C100.13,226.5 100.56,226.71 100.93,226.89 C101.31,227.07 101.52,227.12 102.04,227.6 C102.57,228.08 103.46,228.78 104.07,229.76 C104.68,230.73 105.51,231.91 105.69,233.45 C105.87,234.99 105.49,237.54 105.13,239.01 C104.77,240.48 103.97,241.41 103.53,242.29 C103.08,243.17 102.99,243.94 102.47,244.29 C101.95,244.64 101.2,244.72 100.4,244.37 C99.61,244.02 98.64,242.98 97.68,242.19 C96.73,241.4 95.46,240.57 94.68,239.64 C93.9,238.72 93.26,237.62 92.99,236.64 C92.71,235.67 92.71,234.82 93.03,233.8 C93.34,232.77 94.09,231.44 94.87,230.47 C95.65,229.5 97.05,228.55 97.72,227.97 C98.38,227.4 98.53,227.27 98.87,227.03 C99.21,226.79 99.44,226.55 99.78,226.53 Z" fill="#888" stroke="#000" stroke-width="0.6"/>
<path d="M99.89,228.43 C100.16,228.41 100.5,228.56 100.8,228.69 C101.1,228.81 101.26,228.84 101.69,229.2 C102.12,229.55 102.85,230.05 103.38,230.81 C103.9,231.58 104.67,232.51 104.83,233.78 C104.99,235.05 104.66,237.23 104.33,238.43 C104.01,239.63 103.29,240.31 102.9,240.97 C102.51,241.64 102.43,242.16 102.01,242.42 C101.59,242.67 101.02,242.75 100.38,242.5 C99.74,242.25 98.95,241.53 98.18,240.92 C97.4,240.32 96.35,239.62 95.72,238.87 C95.09,238.12 94.61,237.21 94.39,236.42 C94.18,235.63 94.18,234.96 94.43,234.13 C94.69,233.29 95.28,232.21 95.92,231.44 C96.55,230.67 97.69,229.92 98.24,229.48 C98.78,229.04 98.89,228.97 99.17,228.79 C99.44,228.62 99.62,228.45 99.89,228.43 Z" fill="#d0d0d0" stroke="#000" stroke-width="0.6"/>
<path d="M100,230.27 C100.2,230.26 100.45,230.35 100.67,230.43 C100.9,230.52 101.01,230.53 101.34,230.77 C101.67,231.02 102.24,231.34 102.66,231.9 C103.08,232.47 103.73,233.16 103.87,234.15 C104,235.13 103.73,236.88 103.46,237.8 C103.2,238.71 102.59,239.18 102.27,239.65 C101.95,240.12 101.88,240.44 101.56,240.62 C101.25,240.79 100.84,240.85 100.36,240.69 C99.88,240.52 99.28,240.07 98.68,239.64 C98.09,239.2 97.27,238.65 96.8,238.08 C96.32,237.51 95.97,236.8 95.82,236.2 C95.66,235.6 95.66,235.09 95.85,234.46 C96.04,233.83 96.49,233 96.97,232.42 C97.45,231.84 98.33,231.29 98.75,230.98 C99.16,230.66 99.25,230.63 99.46,230.51 C99.67,230.39 99.79,230.28 100,230.27 Z" fill="#555" stroke="#000" stroke-width="0.6"/>
<path d="M100.11,232.19 C100.24,232.18 100.39,232.23 100.54,232.28 C100.68,232.32 100.75,232.32 100.97,232.46 C101.19,232.61 101.56,232.78 101.85,233.13 C102.14,233.49 102.62,233.93 102.71,234.58 C102.81,235.24 102.61,236.44 102.43,237.04 C102.24,237.64 101.8,237.91 101.58,238.19 C101.36,238.47 101.31,238.63 101.1,238.73 C100.89,238.83 100.65,238.87 100.34,238.79 C100.03,238.7 99.63,238.47 99.24,238.2 C98.85,237.94 98.31,237.57 98,237.19 C97.69,236.82 97.48,236.35 97.38,235.96 C97.28,235.56 97.28,235.23 97.41,234.82 C97.54,234.41 97.82,233.87 98.13,233.49 C98.45,233.12 99.03,232.78 99.3,232.59 C99.57,232.39 99.63,232.39 99.76,232.32 C99.9,232.26 99.98,232.2 100.11,232.19 Z" fill="#c8c8c8" stroke="#000" stroke-width="0.6"/>
<path d="M100.22,234.03 C100.27,234.03 100.34,234.04 100.41,234.06 C100.47,234.08 100.5,234.07 100.6,234.13 C100.7,234.19 100.88,234.25 101.02,234.41 C101.16,234.56 101.4,234.76 101.44,235.07 C101.49,235.37 101.4,235.95 101.3,236.23 C101.21,236.5 100.99,236.61 100.88,236.73 C100.77,236.84 100.75,236.89 100.65,236.93 C100.56,236.97 100.46,236.99 100.32,236.96 C100.18,236.93 99.99,236.85 99.81,236.74 C99.64,236.63 99.38,236.45 99.24,236.28 C99.1,236.11 99.01,235.89 98.97,235.71 C98.92,235.53 98.92,235.38 98.98,235.19 C99.04,235 99.17,234.75 99.31,234.58 C99.45,234.42 99.72,234.27 99.85,234.18 C99.97,234.1 100,234.1 100.06,234.08 C100.12,234.05 100.16,234.03 100.22,234.03 Z" fill="#000" stroke="none" stroke-width="0"/>
</g>
<g clip-path="url(#cp1)">
<path d="M200.2,217.4 C200.9,217.43 201.77,218.03 202.6,218.8 C203.43,219.57 204.27,220.3 205.2,222 C206.13,223.7 207.42,226.7 208.2,229 C208.98,231.3 209.72,233.47 209.9,235.8 C210.08,238.13 209.62,240.22 209.3,243 C208.98,245.78 210.18,250.92 208,252.5 C205.82,254.08 198.78,253.42 196.2,252.5 C193.62,251.58 193.87,248.92 192.5,247 C191.13,245.08 188.92,243.13 188,241 C187.08,238.87 186.75,236.45 187,234.2 C187.25,231.95 188.5,229.28 189.5,227.5 C190.5,225.72 191.83,224.67 193,223.5 C194.17,222.33 195.6,221.32 196.5,220.5 C197.4,219.68 197.78,219.12 198.4,218.6 C199.02,218.08 199.5,217.37 200.2,217.4 Z" fill="#000" stroke="none" stroke-width="0"/>
<path d="M200.27,219.51 C200.89,219.54 201.65,220.03 202.4,220.68 C203.15,221.32 203.88,221.91 204.76,223.37 C205.65,224.83 206.93,227.39 207.7,229.46 C208.47,231.53 209.23,233.64 209.39,235.8 C209.54,237.96 209.01,239.98 208.64,242.44 C208.27,244.91 209.17,249.23 207.18,250.59 C205.19,251.96 199.02,251.42 196.71,250.64 C194.4,249.86 194.55,247.61 193.3,245.92 C192.05,244.23 190.06,242.43 189.23,240.5 C188.4,238.57 188.1,236.39 188.33,234.35 C188.56,232.32 189.69,229.91 190.6,228.3 C191.5,226.7 192.72,225.76 193.78,224.73 C194.84,223.7 196.14,222.82 196.95,222.12 C197.77,221.42 198.11,220.95 198.67,220.52 C199.22,220.08 199.65,219.49 200.27,219.51 Z" fill="#d8d8d8" stroke="#000" stroke-width="0.4"/>
<path d="M200.34,221.57 C200.88,221.59 201.54,221.99 202.21,222.52 C202.87,223.04 203.5,223.5 204.33,224.74 C205.15,225.99 206.41,228.12 207.15,229.96 C207.89,231.81 208.65,233.82 208.79,235.8 C208.92,237.78 208.34,239.69 207.94,241.85 C207.54,244 208.17,247.58 206.38,248.74 C204.59,249.9 199.26,249.48 197.21,248.83 C195.17,248.17 195.23,246.3 194.11,244.83 C192.98,243.36 191.2,241.72 190.46,240 C189.72,238.28 189.46,236.32 189.67,234.51 C189.87,232.7 190.88,230.54 191.7,229.11 C192.51,227.69 193.61,226.85 194.56,225.95 C195.51,225.05 196.68,224.31 197.4,223.72 C198.13,223.12 198.44,222.75 198.93,222.39 C199.42,222.03 199.79,221.54 200.34,221.57 Z" fill="#6a6a6a" stroke="#000" stroke-width="0.5"/>
<path d="M200.41,223.95 C200.87,223.96 201.41,224.26 201.98,224.67 C202.54,225.08 203.06,225.4 203.8,226.39 C204.54,227.39 205.73,229.07 206.42,230.64 C207.11,232.21 207.84,234.06 207.95,235.8 C208.05,237.54 207.46,239.29 207.04,241.09 C206.63,242.89 206.99,245.65 205.45,246.59 C203.91,247.52 199.52,247.21 197.8,246.7 C196.07,246.19 196.06,244.73 195.09,243.51 C194.11,242.29 192.6,240.86 191.97,239.39 C191.33,237.92 191.11,236.25 191.29,234.7 C191.47,233.15 192.33,231.31 193.03,230.09 C193.73,228.88 194.67,228.18 195.49,227.43 C196.31,226.68 197.31,226.08 197.94,225.61 C198.56,225.13 198.82,224.85 199.23,224.58 C199.65,224.3 199.96,223.93 200.41,223.95 Z" fill="#1a1a1a" stroke="#000" stroke-width="0.5"/>
<path d="M200.49,226.24 C200.86,226.25 201.29,226.46 201.76,226.77 C202.22,227.07 202.63,227.28 203.27,228.05 C203.91,228.82 204.99,230.09 205.61,231.38 C206.23,232.67 206.9,234.32 206.98,235.8 C207.06,237.28 206.49,238.82 206.08,240.28 C205.68,241.73 205.84,243.78 204.55,244.51 C203.27,245.23 199.78,245.03 198.37,244.64 C196.95,244.25 196.89,243.16 196.07,242.18 C195.26,241.2 194.01,239.99 193.49,238.77 C192.96,237.56 192.78,236.17 192.93,234.89 C193.08,233.61 193.79,232.08 194.38,231.08 C194.96,230.08 195.75,229.5 196.43,228.9 C197.11,228.3 197.94,227.84 198.46,227.47 C198.98,227.11 199.19,226.91 199.53,226.7 C199.87,226.5 200.12,226.23 200.49,226.24 Z" fill="#888" stroke="#000" stroke-width="0.6"/>
<path d="M200.55,228.27 C200.85,228.28 201.19,228.42 201.56,228.64 C201.93,228.85 202.25,228.98 202.79,229.56 C203.33,230.15 204.26,231.09 204.8,232.13 C205.33,233.17 205.93,234.57 205.99,235.8 C206.05,237.03 205.52,238.34 205.15,239.49 C204.78,240.63 204.81,242.11 203.76,242.67 C202.71,243.22 200,243.09 198.87,242.8 C197.74,242.51 197.65,241.71 196.99,240.95 C196.32,240.18 195.32,239.18 194.89,238.2 C194.47,237.22 194.33,236.1 194.45,235.06 C194.57,234.03 195.15,232.8 195.62,231.99 C196.09,231.19 196.73,230.73 197.28,230.26 C197.84,229.78 198.51,229.43 198.93,229.16 C199.35,228.88 199.52,228.75 199.8,228.6 C200.07,228.45 200.26,228.26 200.55,228.27 Z" fill="#d0d0d0" stroke="#000" stroke-width="0.6"/>
<path d="M200.62,230.22 C200.84,230.23 201.08,230.32 201.37,230.46 C201.65,230.61 201.88,230.67 202.3,231.09 C202.73,231.5 203.49,232.15 203.92,232.93 C204.35,233.72 204.84,234.85 204.88,235.8 C204.93,236.75 204.48,237.8 204.17,238.65 C203.85,239.5 203.79,240.5 202.99,240.89 C202.19,241.28 200.21,241.21 199.36,241.01 C198.52,240.81 198.41,240.27 197.91,239.71 C197.4,239.14 196.64,238.37 196.31,237.62 C195.99,236.88 195.89,236.03 195.98,235.24 C196.07,234.46 196.51,233.52 196.87,232.91 C197.23,232.31 197.72,231.96 198.14,231.61 C198.56,231.26 199.08,231.01 199.4,230.82 C199.72,230.62 199.85,230.54 200.05,230.44 C200.26,230.34 200.4,230.22 200.62,230.22 Z" fill="#555" stroke="#000" stroke-width="0.6"/>
<path d="M200.68,232.27 C200.82,232.27 200.98,232.32 201.16,232.4 C201.34,232.48 201.49,232.5 201.77,232.75 C202.06,232.99 202.59,233.37 202.89,233.88 C203.19,234.39 203.54,235.16 203.56,235.8 C203.58,236.44 203.26,237.16 203.03,237.69 C202.81,238.23 202.71,238.79 202.19,239.02 C201.67,239.26 200.43,239.23 199.89,239.12 C199.34,239 199.25,238.69 198.92,238.34 C198.58,237.98 198.09,237.47 197.88,236.99 C197.67,236.5 197.6,235.95 197.66,235.44 C197.73,234.93 198.01,234.32 198.25,233.93 C198.48,233.53 198.8,233.31 199.08,233.09 C199.36,232.87 199.69,232.72 199.9,232.6 C200.11,232.49 200.19,232.44 200.32,232.39 C200.45,232.33 200.55,232.27 200.68,232.27 Z" fill="#c8c8c8" stroke="#000" stroke-width="0.6"/>
<path d="M200.75,234.23 C200.81,234.23 200.88,234.25 200.96,234.28 C201.04,234.31 201.11,234.31 201.24,234.41 C201.38,234.51 201.64,234.67 201.78,234.9 C201.93,235.13 202.1,235.5 202.11,235.8 C202.12,236.1 201.96,236.44 201.84,236.68 C201.73,236.92 201.66,237.13 201.42,237.23 C201.18,237.33 200.64,237.33 200.39,237.28 C200.15,237.24 200.1,237.12 199.94,236.96 C199.79,236.8 199.56,236.56 199.47,236.34 C199.37,236.12 199.34,235.87 199.37,235.63 C199.4,235.4 199.53,235.12 199.64,234.94 C199.74,234.77 199.89,234.66 200.02,234.57 C200.14,234.47 200.3,234.41 200.39,234.36 C200.49,234.31 200.53,234.3 200.59,234.28 C200.65,234.26 200.69,234.23 200.75,234.23 Z" fill="#000" stroke="none" stroke-width="0"/>
</g>
<g clip-path="url(#cp2)">
<path d="M305.6,219.2 C306.52,219.05 307.7,219.27 308.4,219.9 C309.1,220.53 309.33,221.65 309.8,223 C310.27,224.35 310.8,226.17 311.2,228 C311.6,229.83 312.03,231.83 312.2,234 C312.37,236.17 312.37,238.83 312.2,241 C312.03,243.17 311.52,245.08 311.2,247 C310.88,248.92 312.1,251.58 310.3,252.5 C308.5,253.42 302.45,253.25 300.4,252.5 C298.35,251.75 298.82,249.75 298,248 C297.18,246.25 296.07,244 295.5,242 C294.93,240 294.63,238 294.6,236 C294.57,234 294.82,231.67 295.3,230 C295.78,228.33 296.63,227.08 297.5,226 C298.37,224.92 299.6,224.37 300.5,223.5 C301.4,222.63 302.05,221.52 302.9,220.8 C303.75,220.08 304.68,219.35 305.6,219.2 Z" fill="#000" stroke="none" stroke-width="0"/>
<path d="M305.58,221.07 C306.39,220.94 307.43,221.13 308.06,221.66 C308.69,222.2 308.9,223.12 309.35,224.27 C309.81,225.42 310.34,226.92 310.77,228.55 C311.21,230.18 311.78,232.04 311.94,234.06 C312.11,236.07 311.98,238.68 311.76,240.64 C311.54,242.61 310.96,244.22 310.62,245.86 C310.28,247.5 311.32,249.71 309.72,250.47 C308.11,251.24 302.82,251.11 301,250.47 C299.18,249.84 299.56,248.17 298.8,246.65 C298.03,245.14 296.97,243.18 296.42,241.4 C295.88,239.61 295.56,237.77 295.52,235.96 C295.49,234.14 295.76,232.01 296.22,230.5 C296.67,228.99 297.47,227.88 298.26,226.91 C299.06,225.95 300.17,225.45 300.99,224.7 C301.81,223.95 302.41,223.01 303.17,222.41 C303.94,221.8 304.76,221.19 305.58,221.07 Z" fill="#d8d8d8" stroke="#000" stroke-width="0.4"/>
<path d="M305.55,222.88 C306.27,222.78 307.17,222.94 307.73,223.38 C308.29,223.83 308.48,224.57 308.91,225.53 C309.34,226.49 309.87,227.71 310.31,229.14 C310.76,230.58 311.44,232.28 311.59,234.13 C311.75,235.98 311.52,238.48 311.26,240.24 C311,242 310.4,243.33 310.05,244.71 C309.69,246.09 310.57,247.89 309.15,248.52 C307.74,249.16 303.17,249.05 301.57,248.52 C299.98,247.99 300.28,246.62 299.58,245.33 C298.88,244.04 297.87,242.35 297.36,240.78 C296.84,239.21 296.52,237.54 296.48,235.91 C296.45,234.28 296.73,232.35 297.15,231.01 C297.58,229.66 298.31,228.69 299.03,227.84 C299.75,226.99 300.74,226.54 301.48,225.9 C302.21,225.25 302.76,224.48 303.44,223.98 C304.12,223.48 304.84,222.98 305.55,222.88 Z" fill="#777" stroke="#000" stroke-width="0.7"/>
<path d="M305.53,224.99 C306.13,224.92 306.87,225.05 307.34,225.39 C307.82,225.73 307.98,226.29 308.38,227.04 C308.77,227.8 309.27,228.72 309.72,229.92 C310.16,231.12 310.9,232.62 311.05,234.25 C311.2,235.89 310.88,238.19 310.6,239.7 C310.32,241.22 309.7,242.24 309.35,243.34 C309,244.43 309.69,245.78 308.51,246.27 C307.32,246.76 303.57,246.69 302.23,246.27 C300.9,245.85 301.13,244.81 300.5,243.77 C299.88,242.73 298.97,241.35 298.5,240.03 C298.03,238.71 297.71,237.26 297.68,235.86 C297.64,234.46 297.92,232.79 298.3,231.64 C298.68,230.49 299.33,229.67 299.96,228.96 C300.58,228.24 301.43,227.86 302.07,227.34 C302.7,226.82 303.18,226.22 303.76,225.83 C304.33,225.44 304.93,225.07 305.53,224.99 Z" fill="#ddd" stroke="#000" stroke-width="0.7"/>
<path d="M305.5,227.02 C305.99,226.97 306.58,227.07 306.97,227.32 C307.36,227.58 307.5,227.98 307.85,228.55 C308.2,229.12 308.65,229.78 309.07,230.75 C309.49,231.73 310.24,233.01 310.37,234.4 C310.5,235.8 310.14,237.85 309.86,239.11 C309.57,240.37 308.99,241.12 308.66,241.96 C308.33,242.8 308.85,243.77 307.89,244.13 C306.92,244.49 303.94,244.44 302.86,244.13 C301.78,243.81 301.94,243.05 301.41,242.24 C300.88,241.43 300.08,240.34 299.67,239.26 C299.25,238.19 298.95,236.96 298.92,235.8 C298.89,234.64 299.16,233.23 299.49,232.28 C299.82,231.33 300.37,230.67 300.9,230.08 C301.42,229.5 302.13,229.18 302.65,228.77 C303.18,228.37 303.59,227.93 304.06,227.64 C304.54,227.35 305.02,227.08 305.5,227.02 Z" fill="#666" stroke="#000" stroke-width="0.7"/>
<path d="M305.48,228.98 C305.85,228.95 306.31,229.02 306.61,229.2 C306.92,229.37 307.03,229.64 307.32,230.05 C307.61,230.46 308,230.9 308.38,231.65 C308.75,232.41 309.44,233.45 309.55,234.58 C309.66,235.72 309.31,237.45 309.04,238.45 C308.78,239.45 308.25,239.97 307.96,240.58 C307.67,241.19 308.05,241.84 307.3,242.09 C306.55,242.34 304.3,242.31 303.46,242.09 C302.63,241.86 302.73,241.34 302.3,240.74 C301.86,240.14 301.2,239.32 300.86,238.48 C300.51,237.65 300.25,236.66 300.22,235.74 C300.19,234.82 300.43,233.69 300.7,232.94 C300.97,232.19 301.42,231.68 301.84,231.22 C302.27,230.77 302.82,230.52 303.24,230.21 C303.66,229.91 303.99,229.61 304.36,229.41 C304.74,229.2 305.11,229.02 305.48,228.98 Z" fill="#d8d8d8" stroke="#000" stroke-width="0.7"/>
<path d="M305.46,230.86 C305.73,230.84 306.04,230.89 306.26,231 C306.49,231.12 306.57,231.27 306.79,231.54 C307.02,231.81 307.33,232.08 307.63,232.62 C307.93,233.16 308.51,233.94 308.6,234.79 C308.69,235.65 308.37,236.99 308.15,237.72 C307.93,238.46 307.5,238.79 307.26,239.2 C307.03,239.6 307.28,239.99 306.74,240.15 C306.2,240.31 304.63,240.3 304.03,240.15 C303.44,240 303.5,239.68 303.17,239.27 C302.84,238.86 302.33,238.29 302.07,237.69 C301.8,237.09 301.59,236.36 301.57,235.68 C301.54,235 301.73,234.17 301.94,233.62 C302.15,233.07 302.49,232.7 302.8,232.38 C303.12,232.05 303.52,231.86 303.83,231.66 C304.14,231.45 304.38,231.26 304.66,231.13 C304.93,230.99 305.19,230.88 305.46,230.86 Z" fill="#555" stroke="#000" stroke-width="0.7"/>
<path d="M305.43,232.96 C305.58,232.95 305.75,232.97 305.88,233.03 C306,233.08 306.04,233.15 306.18,233.28 C306.32,233.41 306.51,233.52 306.7,233.82 C306.89,234.12 307.27,234.58 307.32,235.08 C307.37,235.57 307.16,236.39 307.01,236.81 C306.87,237.22 306.6,237.38 306.45,237.58 C306.3,237.79 306.43,237.95 306.13,238.03 C305.83,238.1 304.99,238.1 304.66,238.02 C304.33,237.95 304.35,237.81 304.16,237.59 C303.97,237.38 303.67,237.08 303.5,236.74 C303.34,236.41 303.21,235.99 303.2,235.6 C303.19,235.22 303.31,234.74 303.43,234.43 C303.55,234.11 303.75,233.91 303.93,233.73 C304.11,233.55 304.34,233.45 304.52,233.34 C304.69,233.23 304.84,233.14 304.99,233.08 C305.14,233.01 305.28,232.97 305.43,232.96 Z" fill="#000" stroke="none" stroke-width="0"/>
</g>
<defs><linearGradient id="g4" x1="0" y1="0" x2="0" y2="1"><stop offset="0" stop-color="#e4e4e4"/><stop offset="0.6" stop-color="#b8b8b8"/><stop offset="1" stop-color="#555"/></linearGradient><radialGradient id="g4b" cx="0.5" cy="0.5" r="0.5"><stop offset="0" stop-color="#bbb"/><stop offset="1" stop-color="#666"/></radialGradient></defs>
<g clip-path="url(#cp3)">
<path d="M390.4,217.6 C391.22,216.9 398.45,217.6 400,217.6 C401.55,217.6 408.1,217.23 409,217.6 C409.9,217.97 410.58,220.97 410.8,222 C411.02,223.03 411.52,228.5 411.6,230 C411.68,231.5 411.8,238.12 411.8,240 C411.8,241.88 412.5,251.46 411.6,252.5 C410.7,253.54 402.59,252.5 401,252.5 C399.41,252.5 393.37,253.04 392.5,252.5 C391.63,251.96 390.79,247.38 390.6,246 C390.41,244.62 390.23,237.67 390.2,236 C390.17,234.33 390.18,227.53 390.2,226 C390.22,224.47 389.58,218.3 390.4,217.6 Z" fill="#141414"/>
<path d="M392.2,226.5 C392.3,223 394,221.3 395.6,221.6 C397.2,221.9 398,223.8 399,224.2 C400.2,223.6 401.5,221.2 404,221.3 C406.5,221.5 407.6,223.5 407.2,226 C406.5,228.8 403.5,230 401,231.2 C398.5,232.6 397.2,236 396.2,236.5 C394,236 392.2,231 392.2,226.5 Z" fill="url(#g4)"/>
<path d="M391.8,244.5 C394,243.5 397.5,243.8 400,245.5 C401.5,247.5 401.5,250.5 401,252.5 L392.8,252.5 C391.8,250 391.5,247 391.8,244.5 Z" fill="#8a8a8a"/>
<path d="M405.5,226.5 C406.73,226.17 408.72,227.92 409.6,229.5 C410.48,231.08 410.63,233.75 410.8,236 C410.97,238.25 410.9,240.75 410.6,243 C410.3,245.25 409.85,248.08 409,249.5 C408.15,250.92 406.63,251.92 405.5,251.5 C404.37,251.08 402.95,249.08 402.2,247 C401.45,244.92 401,241.58 401,239 C401,236.42 401.45,233.58 402.2,231.5 C402.95,229.42 404.27,226.83 405.5,226.5 Z" fill="#a8a8a8" stroke="#000" stroke-width="0.7"/>
<path d="M405.65,229.47 C406.65,229.23 408.15,230.46 408.91,231.63 C409.67,232.8 410.01,234.66 410.22,236.5 C410.43,238.35 410.45,240.84 410.16,242.7 C409.86,244.56 409.21,246.61 408.46,247.68 C407.71,248.75 406.58,249.43 405.64,249.12 C404.71,248.81 403.56,247.5 402.87,245.83 C402.18,244.16 401.5,241.22 401.52,239.1 C401.53,236.98 402.26,234.69 402.94,233.08 C403.63,231.48 404.66,229.72 405.65,229.47 Z" fill="#d0d0d0" stroke="#000" stroke-width="0.5"/>
<path d="M405.8,232.21 C406.56,232.04 407.63,232.84 408.26,233.65 C408.88,234.47 409.32,235.66 409.53,237.1 C409.75,238.54 409.83,240.82 409.56,242.29 C409.3,243.76 408.57,245.14 407.94,245.9 C407.31,246.67 406.51,247.09 405.78,246.88 C405.05,246.66 404.16,245.89 403.56,244.62 C402.97,243.34 402.2,240.9 402.22,239.23 C402.24,237.57 403.08,235.81 403.68,234.64 C404.27,233.47 405.03,232.37 405.8,232.21 Z" fill="#777" stroke="#000" stroke-width="0.6"/>
<path d="M405.93,234.71 C406.46,234.6 407.16,235.06 407.63,235.57 C408.1,236.09 408.54,236.76 408.74,237.79 C408.93,238.83 409.03,240.72 408.81,241.78 C408.59,242.85 407.92,243.68 407.43,244.18 C406.95,244.68 406.44,244.91 405.91,244.77 C405.38,244.64 404.74,244.26 404.28,243.37 C403.81,242.47 403.08,240.6 403.1,239.4 C403.12,238.21 403.93,236.96 404.4,236.18 C404.87,235.39 405.39,234.81 405.93,234.71 Z" fill="#c8c8c8" stroke="#000" stroke-width="0.6"/>
<path d="M406.04,236.96 C406.36,236.91 406.75,237.12 407.05,237.39 C407.34,237.66 407.69,237.95 407.83,238.58 C407.97,239.21 408.06,240.51 407.91,241.17 C407.76,241.82 407.25,242.23 406.94,242.51 C406.63,242.78 406.35,242.87 406.03,242.8 C405.71,242.73 405.32,242.61 405.01,242.08 C404.7,241.55 404.16,240.34 404.17,239.61 C404.19,238.88 404.8,238.13 405.11,237.69 C405.43,237.25 405.72,237.01 406.04,236.96 Z" fill="#666" stroke="#000" stroke-width="0.6"/>
<path d="M406.14,238.77 C406.27,238.75 406.42,238.81 406.55,238.91 C406.69,239.01 406.86,239.09 406.93,239.36 C407,239.63 407.05,240.25 406.98,240.53 C406.91,240.81 406.65,240.95 406.51,241.06 C406.37,241.16 406.27,241.19 406.13,241.16 C405.99,241.13 405.83,241.12 405.68,240.9 C405.54,240.68 405.27,240.14 405.28,239.82 C405.29,239.51 405.59,239.19 405.74,239.02 C405.88,238.84 406,238.79 406.14,238.77 Z" fill="#111" stroke="none" stroke-width="0"/>
</g>
<g clip-path="url(#cp4)">
<path d="M494.5,216.8 C495.95,216.8 498.12,216.73 499.5,217.6 C500.88,218.47 502.08,219.93 502.8,222 C503.52,224.07 503.63,227.33 503.8,230 C503.97,232.67 503.9,235.5 503.8,238 C503.7,240.5 503.47,242.58 503.2,245 C502.93,247.42 504.6,251.25 502.2,252.5 C499.8,253.75 491.28,253.75 488.8,252.5 C486.32,251.25 487.7,247.58 487.3,245 C486.9,242.42 486.55,239.67 486.4,237 C486.25,234.33 486.17,231.5 486.4,229 C486.63,226.5 487.07,223.9 487.8,222 C488.53,220.1 489.68,218.47 490.8,217.6 C491.92,216.73 493.05,216.8 494.5,216.8 Z" fill="#000" stroke="none" stroke-width="0"/>
<path d="M494.7,218.93 C495.96,218.92 497.83,218.87 499.05,219.59 C500.27,220.3 501.32,221.47 502.04,223.24 C502.75,225 503.12,227.79 503.32,230.19 C503.51,232.58 503.37,235.39 503.21,237.62 C503.05,239.85 502.66,241.56 502.34,243.57 C502.02,245.57 503.37,248.64 501.29,249.65 C499.21,250.66 492.01,250.65 489.86,249.63 C487.71,248.61 488.81,245.68 488.38,243.51 C487.95,241.35 487.45,239 487.26,236.64 C487.08,234.28 487.01,231.58 487.26,229.36 C487.51,227.13 488.06,224.92 488.76,223.29 C489.47,221.67 490.49,220.35 491.48,219.62 C492.47,218.89 493.44,218.93 494.7,218.93 Z" fill="#bcbcbc" stroke="#000" stroke-width="0.5"/>
<path d="M494.89,221 C495.97,220.99 497.54,220.95 498.61,221.54 C499.67,222.12 500.57,223.01 501.26,224.49 C501.94,225.97 502.5,228.3 502.71,230.42 C502.92,232.53 502.73,235.23 502.52,237.18 C502.32,239.13 501.83,240.51 501.48,242.13 C501.13,243.76 502.2,246.14 500.43,246.94 C498.66,247.73 492.7,247.72 490.87,246.91 C489.03,246.09 489.89,243.81 489.45,242.04 C489.01,240.26 488.41,238.3 488.2,236.25 C488,234.2 487.95,231.69 488.2,229.75 C488.46,227.81 489.08,225.95 489.73,224.59 C490.39,223.23 491.29,222.19 492.15,221.59 C493.01,220.99 493.81,221.01 494.89,221 Z" fill="#555" stroke="#000" stroke-width="0.5"/>
<path d="M495.08,223.03 C495.97,223.02 497.27,222.99 498.17,223.45 C499.07,223.9 499.83,224.57 500.47,225.78 C501.1,226.98 501.77,228.88 501.98,230.7 C502.2,232.52 501.97,235.02 501.74,236.68 C501.52,238.35 500.97,239.42 500.62,240.7 C500.26,241.98 501.08,243.76 499.61,244.36 C498.15,244.97 493.34,244.96 491.82,244.33 C490.3,243.69 490.94,241.99 490.51,240.57 C490.08,239.16 489.44,237.56 489.22,235.82 C489.01,234.09 488.98,231.83 489.22,230.18 C489.47,228.52 490.11,227.01 490.71,225.9 C491.3,224.79 492.07,224 492.8,223.52 C493.53,223.04 494.18,223.04 495.08,223.03 Z" fill="#d0d0d0" stroke="#000" stroke-width="0.6"/>
<path d="M495.26,225 C495.98,224.99 497.01,224.97 497.75,225.32 C498.48,225.67 499.1,226.13 499.66,227.08 C500.22,228.03 500.93,229.52 501.13,231.03 C501.33,232.53 501.1,234.75 500.87,236.12 C500.64,237.49 500.09,238.29 499.76,239.26 C499.42,240.23 500.01,241.49 498.84,241.93 C497.67,242.37 493.93,242.36 492.72,241.89 C491.5,241.42 491.96,240.21 491.56,239.13 C491.16,238.04 490.53,236.78 490.32,235.37 C490.12,233.95 490.1,231.99 490.32,230.63 C490.55,229.28 491.17,228.09 491.69,227.22 C492.21,226.34 492.84,225.77 493.43,225.4 C494.03,225.03 494.54,225.02 495.26,225 Z" fill="#666" stroke="#000" stroke-width="0.6"/>
<path d="M495.44,226.93 C495.98,226.92 496.76,226.91 497.33,227.15 C497.9,227.4 498.37,227.7 498.84,228.41 C499.31,229.12 499.97,230.22 500.15,231.4 C500.33,232.59 500.11,234.43 499.9,235.5 C499.69,236.57 499.19,237.13 498.89,237.82 C498.59,238.51 499,239.34 498.11,239.64 C497.22,239.93 494.48,239.92 493.56,239.6 C492.65,239.27 492.94,238.48 492.6,237.69 C492.26,236.9 491.69,235.97 491.5,234.87 C491.32,233.78 491.31,232.18 491.5,231.13 C491.7,230.07 492.25,229.19 492.68,228.54 C493.1,227.89 493.59,227.5 494.05,227.23 C494.51,226.96 494.89,226.94 495.44,226.93 Z" fill="#d8d8d8" stroke="#000" stroke-width="0.6"/>
<path d="M495.61,228.81 C495.99,228.8 496.52,228.79 496.92,228.95 C497.32,229.11 497.65,229.28 498,229.76 C498.36,230.24 498.91,230.98 499.05,231.83 C499.19,232.67 499.01,234.06 498.84,234.82 C498.67,235.58 498.26,235.93 498.03,236.38 C497.79,236.82 498.04,237.31 497.43,237.48 C496.81,237.66 494.99,237.65 494.36,237.45 C493.72,237.25 493.9,236.78 493.63,236.27 C493.36,235.75 492.9,235.12 492.76,234.35 C492.61,233.58 492.61,232.4 492.76,231.65 C492.91,230.9 493.35,230.31 493.67,229.87 C493.98,229.43 494.33,229.19 494.65,229.02 C494.98,228.84 495.23,228.82 495.61,228.81 Z" fill="#777" stroke="#000" stroke-width="0.6"/>
<path d="M495.81,230.94 C496,230.93 496.25,230.93 496.45,231 C496.65,231.07 496.82,231.13 497.01,231.36 C497.2,231.59 497.53,231.95 497.61,232.38 C497.69,232.81 497.58,233.57 497.49,233.95 C497.39,234.34 497.15,234.49 497.01,234.69 C496.88,234.89 496.98,235.07 496.68,235.15 C496.38,235.22 495.52,235.21 495.21,235.13 C494.9,235.04 494.97,234.86 494.82,234.62 C494.67,234.39 494.41,234.08 494.33,233.7 C494.24,233.31 494.24,232.68 494.33,232.3 C494.41,231.92 494.66,231.64 494.83,231.43 C495,231.22 495.17,231.12 495.34,231.04 C495.5,230.96 495.62,230.95 495.81,230.94 Z" fill="#111" stroke="none" stroke-width="0"/>
</g>
<rect x="396.31" y="217.43" width="0.8" height="0.8" fill="#333"/>
<rect x="406.01" y="217.78" width="0.9" height="0.9" fill="#333"/>
<rect x="390.73" y="213.3" width="0.9" height="0.9" fill="#333"/>
<rect x="391.77" y="213.49" width="0.9" height="0.9" fill="#333"/>
<rect x="402.3" y="209.5" width="1.1" height="1.1" fill="#333"/>
<rect x="390.97" y="216.78" width="1.0" height="1.0" fill="#555"/>
<rect x="398.17" y="210.69" width="0.9" height="0.9" fill="#777"/>
<rect x="392.01" y="209.84" width="1.0" height="1.0" fill="#555"/>
<rect x="391.9" y="205.32" width="0.9" height="0.9" fill="#333"/>
<rect x="399.68" y="210.93" width="1.1" height="1.1" fill="#777"/>
<rect x="401.42" y="212.87" width="0.9" height="0.9" fill="#777"/>
<rect x="405.49" y="205.79" width="0.8" height="0.8" fill="#555"/>
<rect x="401.2" y="211.1" width="1.1" height="1.1" fill="#777"/>
<rect x="395.61" y="193.98" width="1.1" height="1.1" fill="#333"/>
<rect x="393.22" y="215.07" width="1.1" height="1.1" fill="#999"/>
<rect x="390.76" y="206.84" width="1.0" height="1.0" fill="#777"/>
<rect x="403.56" y="209.17" width="0.8" height="0.8" fill="#999"/>
<rect x="406.38" y="195.69" width="0.8" height="0.8" fill="#999"/>
<rect x="391.18" y="205.7" width="1.0" height="1.0" fill="#999"/>
<rect x="403.97" y="198.33" width="0.8" height="0.8" fill="#777"/>
<rect x="408.34" y="214.84" width="1.1" height="1.1" fill="#333"/>
<rect x="391.15" y="203.25" width="0.9" height="0.9" fill="#555"/>
<rect x="397.76" y="196.99" width="0.8" height="0.8" fill="#999"/>
<rect x="393.24" y="213.97" width="0.9" height="0.9" fill="#777"/>
<rect x="405.98" y="199.34" width="1.1" height="1.1" fill="#777"/>
<rect x="409.24" y="206.35" width="0.9" height="0.9" fill="#999"/>
<rect x="392.94" y="217.22" width="0.9" height="0.9" fill="#555"/>
<rect x="390.24" y="200.73" width="1.0" height="1.0" fill="#555"/>
<rect x="395.5" y="217.47" width="1.0" height="1.0" fill="#777"/>
<rect x="408.59" y="206.08" width="1.1" height="1.1" fill="#333"/>
<rect x="407.54" y="202.79" width="1.1" height="1.1" fill="#999"/>
<rect x="397.78" y="217.73" width="0.8" height="0.8" fill="#999"/>
<rect x="393.72" y="193.76" width="0.9" height="0.9" fill="#999"/>
<rect x="392.14" y="208.98" width="0.8" height="0.8" fill="#333"/>
<rect x="401.05" y="210.8" width="0.8" height="0.8" fill="#777"/>
<rect x="391.37" y="216.92" width="0.9" height="0.9" fill="#999"/>
<rect x="402.37" y="195.18" width="1.1" height="1.1" fill="#777"/>
<rect x="392.4" y="199.98" width="1.1" height="1.1" fill="#999"/>
<rect x="399.43" y="217.82" width="1.0" height="1.0" fill="#333"/>
<rect x="404.44" y="212.27" width="0.8" height="0.8" fill="#555"/>
<rect x="394" y="195.34" width="0.9" height="0.9" fill="#777"/>
<rect x="403.46" y="197.11" width="0.8" height="0.8" fill="#777"/>
<rect x="403.58" y="216.3" width="0.9" height="0.9" fill="#777"/>
<rect x="396.94" y="216.76" width="0.9" height="0.9" fill="#777"/>
<rect x="401.96" y="202.46" width="0.9" height="0.9" fill="#555"/>
<rect x="405.96" y="204.31" width="0.9" height="0.9" fill="#555"/>
<rect x="400.09" y="214.84" width="0.8" height="0.8" fill="#333"/>
<rect x="405.41" y="212.42" width="1.0" height="1.0" fill="#555"/>
<rect x="398.72" y="196.05" width="1.0" height="1.0" fill="#777"/>
<rect x="391.57" y="217.74" width="0.9" height="0.9" fill="#999"/>
<rect x="396.59" y="212.18" width="1.1" height="1.1" fill="#333"/>
<rect x="407.73" y="215.04" width="0.8" height="0.8" fill="#333"/>
<rect x="407.74" y="202.7" width="1.1" height="1.1" fill="#555"/>
<rect x="407.34" y="213.29" width="0.8" height="0.8" fill="#777"/>
<rect x="405.62" y="194.4" width="1.1" height="1.1" fill="#999"/>
<rect x="397.83" y="195.59" width="0.9" height="0.9" fill="#555"/>
<rect x="409.37" y="217.98" width="0.9" height="0.9" fill="#999"/>
<rect x="401.93" y="209.12" width="1.0" height="1.0" fill="#999"/>
<rect x="393.04" y="210.48" width="0.8" height="0.8" fill="#333"/>
<rect x="405.59" y="204.81" width="0.9" height="0.9" fill="#333"/>
<rect x="398.46" y="199" width="0.8" height="0.8" fill="#555"/>
<rect x="394.91" y="215.85" width="1.0" height="1.0" fill="#555"/>
<rect x="395.06" y="213.61" width="0.8" height="0.8" fill="#555"/>
<rect x="407.75" y="214.87" width="1.1" height="1.1" fill="#999"/>
<rect x="406.13" y="198.72" width="0.9" height="0.9" fill="#555"/>
<rect x="400.21" y="217.99" width="0.9" height="0.9" fill="#999"/>
<rect x="401.87" y="202.94" width="0.9" height="0.9" fill="#555"/>
<rect x="392.76" y="208.42" width="0.8" height="0.8" fill="#333"/>
<rect x="396.36" y="211.28" width="0.8" height="0.8" fill="#999"/>
<rect x="407.22" y="217.92" width="1.0" height="1.0" fill="#555"/>
<rect x="390.82" y="217.76" width="0.8" height="0.8" fill="#999"/>
<rect x="404.82" y="197.18" width="1.0" height="1.0" fill="#999"/>
<rect x="401.94" y="211.61" width="1.0" height="1.0" fill="#555"/>
<rect x="398.82" y="210.89" width="0.9" height="0.9" fill="#999"/>
<rect x="403.63" y="198.79" width="0.9" height="0.9" fill="#777"/>
<rect x="406.38" y="217.53" width="1.1" height="1.1" fill="#333"/>
<rect x="398.62" y="217.87" width="1.1" height="1.1" fill="#555"/>
<rect x="391.43" y="206.8" width="0.9" height="0.9" fill="#333"/>
<rect x="408.32" y="207.65" width="0.9" height="0.9" fill="#777"/>
<rect x="394.94" y="217.53" width="0.9" height="0.9" fill="#999"/>
<rect x="404.56" y="217.78" width="0.9" height="0.9" fill="#999"/>
<rect x="409.3" y="200.68" width="1.1" height="1.1" fill="#555"/>
<rect x="409.38" y="213.92" width="0.9" height="0.9" fill="#999"/>
<rect x="396.95" y="217.79" width="0.8" height="0.8" fill="#777"/>
<rect x="396.59" y="212.74" width="1.1" height="1.1" fill="#333"/>
<rect x="396.46" y="208.27" width="0.8" height="0.8" fill="#333"/>
<rect x="409.21" y="202.46" width="0.8" height="0.8" fill="#333"/>
<rect x="395.18" y="217.96" width="1.0" height="1.0" fill="#555"/>
<rect x="404.74" y="201.2" width="1.1" height="1.1" fill="#777"/>
<rect x="392.91" y="196.88" width="1.0" height="1.0" fill="#999"/>
<rect x="391.74" y="217.92" width="1.1" height="1.1" fill="#555"/>
<rect x="407.46" y="216.19" width="0.8" height="0.8" fill="#333"/>
<rect x="405.63" y="217.82" width="0.8" height="0.8" fill="#555"/>
<rect x="395.16" y="217.63" width="1.0" height="1.0" fill="#333"/>
<rect x="409.39" y="213.64" width="0.9" height="0.9" fill="#777"/>
<rect x="390.84" y="205.41" width="0.9" height="0.9" fill="#333"/>
<rect x="395.11" y="217.18" width="1.0" height="1.0" fill="#777"/>
<rect x="400.36" y="216.94" width="0.9" height="0.9" fill="#999"/>
<rect x="395.28" y="201.85" width="0.8" height="0.8" fill="#777"/>
<rect x="390.3" y="204.56" width="1.1" height="1.1" fill="#555"/>
<rect x="394.79" y="213" width="1.1" height="1.1" fill="#999"/>
<rect x="400.65" y="198.25" width="0.9" height="0.9" fill="#777"/>
<rect x="409.16" y="215.06" width="1.1" height="1.1" fill="#555"/>
<rect x="409.29" y="193.9" width="0.8" height="0.8" fill="#555"/>
<rect x="391.38" y="204.28" width="1.1" height="1.1" fill="#777"/>
<rect x="393.18" y="217.82" width="1.0" height="1.0" fill="#999"/>
<rect x="401.68" y="206" width="1.1" height="1.1" fill="#333"/>
<rect x="393.61" y="216.19" width="1.0" height="1.0" fill="#333"/>
<rect x="397.1" y="215.3" width="0.9" height="0.9" fill="#777"/>
<rect x="390.67" y="198.53" width="1.0" height="1.0" fill="#555"/>
<rect x="393.98" y="215.34" width="1.1" height="1.1" fill="#111"/>
<rect x="395.8" y="211.64" width="0.8" height="0.8" fill="#333"/>
<rect x="392.23" y="209.54" width="1.1" height="1.1" fill="#333"/>
<rect x="401.65" y="214.72" width="1.0" height="1.0" fill="#555"/>
<rect x="402.46" y="217.56" width="0.9" height="0.9" fill="#999"/>
<rect x="402.99" y="210.88" width="1.1" height="1.1" fill="#999"/>
<rect x="405.02" y="210.81" width="0.9" height="0.9" fill="#777"/>
<rect x="395.9" y="212.11" width="0.8" height="0.8" fill="#333"/>
<rect x="406.17" y="210.89" width="1.1" height="1.1" fill="#999"/>
<rect x="404.44" y="209.61" width="0.8" height="0.8" fill="#333"/>
<rect x="406.2" y="212.53" width="0.8" height="0.8" fill="#333"/>
<rect x="391.09" y="217.2" width="0.8" height="0.8" fill="#555"/>
<rect x="397.66" y="214.09" width="0.8" height="0.8" fill="#111"/>
<rect x="402.4" y="211.33" width="1.0" height="1.0" fill="#777"/>
<rect x="390.56" y="209.8" width="0.8" height="0.8" fill="#999"/>
<rect x="403.03" y="217.68" width="1.0" height="1.0" fill="#777"/>
<rect x="405.88" y="209.15" width="0.9" height="0.9" fill="#333"/>
<rect x="394.88" y="211.72" width="1.1" height="1.1" fill="#777"/>
<rect x="406.57" y="217.61" width="0.8" height="0.8" fill="#555"/>
<rect x="402.22" y="211.81" width="0.9" height="0.9" fill="#111"/>
<rect x="396.8" y="211.7" width="0.9" height="0.9" fill="#555"/>
<rect x="390.74" y="217.71" width="0.8" height="0.8" fill="#555"/>
<rect x="403.65" y="211.39" width="1.0" height="1.0" fill="#555"/>
<rect x="399.33" y="213.92" width="0.9" height="0.9" fill="#111"/>
<rect x="396.42" y="217.55" width="0.8" height="0.8" fill="#777"/>
<rect x="396" y="217.61" width="1.1" height="1.1" fill="#999"/>
<rect x="409.39" y="214.8" width="0.8" height="0.8" fill="#333"/>
<rect x="401.55" y="217.13" width="1.0" height="1.0" fill="#999"/>
<rect x="408.6" y="217.2" width="1.0" height="1.0" fill="#999"/>
<rect x="407.35" y="211.04" width="1.1" height="1.1" fill="#333"/>
<rect x="407.56" y="213.69" width="0.9" height="0.9" fill="#111"/>
<rect x="390.57" y="213.63" width="1.1" height="1.1" fill="#777"/>
<rect x="396.24" y="217.14" width="1.1" height="1.1" fill="#555"/>
<rect x="396.51" y="209.23" width="1.0" height="1.0" fill="#111"/>
<rect x="404.76" y="209.24" width="0.9" height="0.9" fill="#111"/>
<rect x="404.05" y="208.39" width="1.0" height="1.0" fill="#555"/>
<rect x="397.57" y="214.73" width="0.8" height="0.8" fill="#999"/>
<rect x="397.35" y="214.35" width="0.8" height="0.8" fill="#555"/>
<rect x="395.83" y="217.77" width="0.9" height="0.9" fill="#555"/>
<rect x="395.24" y="216.04" width="1.0" height="1.0" fill="#999"/>
<rect x="394.11" y="214.94" width="0.8" height="0.8" fill="#777"/>
<rect x="405.93" y="211.96" width="0.9" height="0.9" fill="#999"/>
<rect x="404.17" y="217.78" width="1.1" height="1.1" fill="#777"/>
<rect x="402.18" y="217.16" width="1.1" height="1.1" fill="#555"/>
<rect x="391.43" y="208.04" width="0.9" height="0.9" fill="#333"/>
<rect x="399.47" y="215.26" width="1.0" height="1.0" fill="#555"/>
<rect x="404.54" y="207.34" width="1.1" height="1.1" fill="#555"/>
<rect x="402.96" y="215.69" width="1.1" height="1.1" fill="#999"/>
<rect x="392.78" y="211.8" width="0.9" height="0.9" fill="#111"/>
<rect x="400.01" y="209.61" width="0.9" height="0.9" fill="#999"/>
<rect x="399.11" y="215.37" width="1.1" height="1.1" fill="#777"/>
<rect x="393.15" y="216.71" width="0.9" height="0.9" fill="#111"/>
<rect x="397" y="217.51" width="1.0" height="1.0" fill="#333"/>
<rect x="395.41" y="212.71" width="1.1" height="1.1" fill="#111"/>
<rect x="397.77" y="210.49" width="1.1" height="1.1" fill="#333"/>
<rect x="395.63" y="210.4" width="1.0" height="1.0" fill="#777"/>
<rect x="401.41" y="215.08" width="0.9" height="0.9" fill="#999"/>
<rect x="392.26" y="208.45" width="1.1" height="1.1" fill="#777"/>
<rect x="402.77" y="214.31" width="0.8" height="0.8" fill="#555"/>
<rect x="392.92" y="214.38" width="1.1" height="1.1" fill="#777"/>
<rect x="390.5" y="214.75" width="1.1" height="1.1" fill="#999"/>
<rect x="408.97" y="216.2" width="0.9" height="0.9" fill="#111"/>
<rect x="393.43" y="213.27" width="1.1" height="1.1" fill="#111"/>
<rect x="392.12" y="210.08" width="0.9" height="0.9" fill="#111"/>
<rect x="394.92" y="208.13" width="0.9" height="0.9" fill="#555"/>
<rect x="402.4" y="213.2" width="0.8" height="0.8" fill="#777"/>
<rect x="392.39" y="215.7" width="0.9" height="0.9" fill="#999"/>
<rect x="397.87" y="216.43" width="0.8" height="0.8" fill="#999"/>
<rect x="390.7" y="215.69" width="1.0" height="1.0" fill="#777"/>
<rect x="408.72" y="211.78" width="1.1" height="1.1" fill="#333"/>
<rect x="400.5" y="212.98" width="1.1" height="1.1" fill="#111"/>
<rect x="403.89" y="215.63" width="0.9" height="0.9" fill="#111"/>
<rect x="399.97" y="211.41" width="0.8" height="0.8" fill="#777"/>
<rect x="395.39" y="211.5" width="0.9" height="0.9" fill="#555"/>
<rect x="399.87" y="211.13" width="1.0" height="1.0" fill="#777"/>
<rect x="403.47" y="216.66" width="0.8" height="0.8" fill="#555"/>
<rect x="394.4" y="207.43" width="0.9" height="0.9" fill="#555"/>
<rect x="394.89" y="216.45" width="0.8" height="0.8" fill="#555"/>
<rect x="408.59" y="213.58" width="0.9" height="0.9" fill="#333"/>
<rect x="399.72" y="208.26" width="0.9" height="0.9" fill="#111"/>
<rect x="408.02" y="217.75" width="0.9" height="0.9" fill="#111"/>
<rect x="398.39" y="210.95" width="1.1" height="1.1" fill="#333"/>
<rect x="399.04" y="210.93" width="0.8" height="0.8" fill="#555"/>
<rect x="409.45" y="207.97" width="0.9" height="0.9" fill="#555"/>
<rect x="394.02" y="207.91" width="0.8" height="0.8" fill="#777"/>
<rect x="396.42" y="210.75" width="1.0" height="1.0" fill="#555"/>
<rect x="398.91" y="217.38" width="1.0" height="1.0" fill="#111"/>
<rect x="392.03" y="214.44" width="0.9" height="0.9" fill="#111"/>
<rect x="397.72" y="210.19" width="1.1" height="1.1" fill="#555"/>
<rect x="392.17" y="211.01" width="1.0" height="1.0" fill="#333"/>
<rect x="400.79" y="214.15" width="1.0" height="1.0" fill="#555"/>
<rect x="404.51" y="213.83" width="0.9" height="0.9" fill="#777"/>
<rect x="405.92" y="210.21" width="1.1" height="1.1" fill="#111"/>
<rect x="391.16" y="217.7" width="1.0" height="1.0" fill="#111"/>
<rect x="394.2" y="217.7" width="1.0" height="1.0" fill="#999"/>
<rect x="397.4" y="215.35" width="0.8" height="0.8" fill="#999"/>
<rect x="395.48" y="210.87" width="1.0" height="1.0" fill="#555"/>
<rect x="396.15" y="210.8" width="0.8" height="0.8" fill="#999"/>
<rect x="390.96" y="216.34" width="1.1" height="1.1" fill="#777"/>
<rect x="408.62" y="214.8" width="1.1" height="1.1" fill="#555"/>
<rect x="391" y="215.5" width="18.5" height="2.3" fill="#222" opacity="0.7"/>
<rect x="502.48" y="217.8" width="0.9" height="0.9" fill="#999"/>
<rect x="487.17" y="196.94" width="0.9" height="0.9" fill="#777"/>
<rect x="498.54" y="216.28" width="1.1" height="1.1" fill="#777"/>
<rect x="493.88" y="204.13" width="0.9" height="0.9" fill="#333"/>
<rect x="494.44" y="217.69" width="0.8" height="0.8" fill="#999"/>
<rect x="499.34" y="213.67" width="0.9" height="0.9" fill="#777"/>
<rect x="505.62" y="199.43" width="1.0" height="1.0" fill="#333"/>
<rect x="498.87" y="217.42" width="1.1" height="1.1" fill="#999"/>
<rect x="505.78" y="194.64" width="0.9" height="0.9" fill="#555"/>
<rect x="489.53" y="214.1" width="0.8" height="0.8" fill="#555"/>
<rect x="501.82" y="216.68" width="1.0" height="1.0" fill="#777"/>
<rect x="494.09" y="205.94" width="1.1" height="1.1" fill="#555"/>
<rect x="491.7" y="217.14" width="1.0" height="1.0" fill="#555"/>
<rect x="503.8" y="211.28" width="0.8" height="0.8" fill="#777"/>
<rect x="494.53" y="193.45" width="0.8" height="0.8" fill="#555"/>
<rect x="499.41" y="193.54" width="0.8" height="0.8" fill="#333"/>
<rect x="496.02" y="202.51" width="1.0" height="1.0" fill="#999"/>
<rect x="487.77" y="216.68" width="0.8" height="0.8" fill="#333"/>
<rect x="490.6" y="194.59" width="0.8" height="0.8" fill="#555"/>
<rect x="494.07" y="200.29" width="1.0" height="1.0" fill="#999"/>
<rect x="501.72" y="208.62" width="0.8" height="0.8" fill="#333"/>
<rect x="499.11" y="207.02" width="0.9" height="0.9" fill="#777"/>
<rect x="487.71" y="216.12" width="0.9" height="0.9" fill="#333"/>
<rect x="506" y="217.99" width="0.8" height="0.8" fill="#555"/>
<rect x="502.56" y="215.08" width="0.9" height="0.9" fill="#777"/>
<rect x="498.8" y="217.95" width="1.1" height="1.1" fill="#333"/>
<rect x="497.41" y="217.97" width="1.1" height="1.1" fill="#333"/>
<rect x="499.62" y="217.72" width="0.9" height="0.9" fill="#333"/>
<rect x="494.56" y="216.91" width="1.0" height="1.0" fill="#777"/>
<rect x="494.94" y="217.98" width="1.1" height="1.1" fill="#777"/>
<rect x="494.91" y="200.39" width="0.9" height="0.9" fill="#777"/>
<rect x="494.42" y="215.14" width="1.1" height="1.1" fill="#333"/>
<rect x="504.13" y="214.82" width="1.1" height="1.1" fill="#333"/>
<rect x="497.98" y="215.78" width="0.9" height="0.9" fill="#555"/>
<rect x="487.28" y="212.01" width="0.8" height="0.8" fill="#999"/>
<rect x="497.88" y="197.15" width="0.9" height="0.9" fill="#555"/>
<rect x="493.61" y="217.68" width="0.8" height="0.8" fill="#555"/>
<rect x="489.07" y="213.48" width="1.0" height="1.0" fill="#555"/>
<rect x="489.41" y="196.28" width="1.0" height="1.0" fill="#999"/>
<rect x="488.01" y="197.2" width="0.8" height="0.8" fill="#999"/>
<rect x="504.18" y="210.05" width="0.9" height="0.9" fill="#555"/>
<rect x="498.8" y="210.22" width="1.1" height="1.1" fill="#555"/>
<rect x="490.48" y="217.35" width="0.9" height="0.9" fill="#999"/>
<rect x="494.29" y="217.84" width="0.9" height="0.9" fill="#555"/>
<rect x="487.78" y="211.72" width="1.0" height="1.0" fill="#333"/>
<rect x="489.24" y="210.68" width="1.1" height="1.1" fill="#777"/>
<rect x="492.86" y="217.11" width="1.0" height="1.0" fill="#999"/>
<rect x="495.49" y="214.55" width="0.8" height="0.8" fill="#333"/>
<rect x="498.76" y="213.5" width="1.1" height="1.1" fill="#555"/>
<rect x="501.51" y="204.23" width="0.9" height="0.9" fill="#999"/>
<rect x="502.4" y="215.22" width="0.9" height="0.9" fill="#333"/>
<rect x="493.81" y="215.77" width="0.8" height="0.8" fill="#999"/>
<rect x="487.77" y="217.81" width="0.8" height="0.8" fill="#777"/>
<rect x="488.03" y="213.17" width="0.9" height="0.9" fill="#999"/>
<rect x="487.49" y="217.96" width="0.9" height="0.9" fill="#333"/>
<rect x="489.5" y="199.32" width="0.9" height="0.9" fill="#777"/>
<rect x="500.04" y="206.59" width="0.8" height="0.8" fill="#555"/>
<rect x="502.83" y="210.35" width="0.9" height="0.9" fill="#777"/>
<rect x="493.15" y="210.26" width="0.9" height="0.9" fill="#999"/>
<rect x="491.83" y="195.09" width="0.9" height="0.9" fill="#999"/>
<rect x="498.25" y="210.19" width="1.0" height="1.0" fill="#555"/>
<rect x="494.07" y="217.48" width="0.9" height="0.9" fill="#999"/>
<rect x="499.09" y="216.84" width="1.1" height="1.1" fill="#777"/>
<rect x="490.21" y="204.02" width="0.8" height="0.8" fill="#333"/>
<rect x="499.09" y="215.85" width="0.8" height="0.8" fill="#999"/>
<rect x="491.79" y="212.41" width="1.0" height="1.0" fill="#999"/>
<rect x="492.03" y="193.57" width="1.0" height="1.0" fill="#555"/>
<rect x="493.29" y="217.94" width="0.9" height="0.9" fill="#555"/>
<rect x="498.69" y="195.45" width="1.0" height="1.0" fill="#777"/>
<rect x="492.89" y="194.99" width="0.8" height="0.8" fill="#777"/>
<rect x="501.2" y="217.33" width="1.1" height="1.1" fill="#777"/>
<rect x="494.94" y="215.79" width="0.9" height="0.9" fill="#333"/>
<rect x="496.28" y="210.29" width="0.8" height="0.8" fill="#333"/>
<rect x="488.03" y="211.59" width="0.8" height="0.8" fill="#777"/>
<rect x="496.94" y="212.45" width="1.0" height="1.0" fill="#999"/>
<rect x="498.19" y="217.45" width="0.9" height="0.9" fill="#999"/>
<rect x="489.56" y="196.64" width="0.9" height="0.9" fill="#555"/>
<rect x="495.57" y="217.97" width="1.0" height="1.0" fill="#555"/>
<rect x="494.64" y="216.97" width="0.8" height="0.8" fill="#333"/>
<rect x="499.25" y="211.72" width="1.1" height="1.1" fill="#777"/>
<rect x="498.44" y="212.85" width="0.9" height="0.9" fill="#999"/>
<rect x="490.14" y="218" width="0.8" height="0.8" fill="#333"/>
<rect x="494.71" y="217.21" width="0.8" height="0.8" fill="#333"/>
<rect x="487.23" y="212.02" width="0.9" height="0.9" fill="#555"/>
<rect x="494.85" y="212.84" width="0.9" height="0.9" fill="#999"/>
<rect x="496.66" y="217.97" width="1.1" height="1.1" fill="#333"/>
<rect x="500.59" y="218" width="1.1" height="1.1" fill="#999"/>
<rect x="488.53" y="208.93" width="0.9" height="0.9" fill="#555"/>
<rect x="505.94" y="217" width="0.8" height="0.8" fill="#333"/>
<rect x="493.37" y="205.48" width="0.8" height="0.8" fill="#777"/>
<rect x="492.15" y="211.6" width="1.0" height="1.0" fill="#777"/>
<rect x="492.67" y="206.11" width="0.8" height="0.8" fill="#333"/>
<rect x="502.9" y="217.91" width="0.9" height="0.9" fill="#555"/>
<rect x="502.23" y="216.08" width="1.0" height="1.0" fill="#333"/>
<rect x="490.86" y="213.82" width="0.9" height="0.9" fill="#999"/>
<rect x="494.14" y="207.27" width="1.1" height="1.1" fill="#999"/>
<rect x="495.76" y="211.92" width="0.8" height="0.8" fill="#111"/>
<rect x="495.15" y="209.17" width="1.0" height="1.0" fill="#999"/>
<rect x="501.31" y="213.78" width="0.8" height="0.8" fill="#999"/>
<rect x="497.39" y="216.43" width="0.8" height="0.8" fill="#111"/>
<rect x="489.46" y="210.65" width="1.0" height="1.0" fill="#333"/>
<rect x="504.6" y="209.52" width="0.8" height="0.8" fill="#111"/>
<rect x="489.92" y="210.34" width="0.8" height="0.8" fill="#111"/>
<rect x="500.39" y="217.5" width="1.0" height="1.0" fill="#999"/>
<rect x="490.99" y="205.71" width="0.8" height="0.8" fill="#999"/>
<rect x="502.9" y="208.71" width="0.8" height="0.8" fill="#777"/>
<rect x="491.82" y="216.08" width="0.8" height="0.8" fill="#111"/>
<rect x="504.11" y="206.37" width="1.0" height="1.0" fill="#111"/>
<rect x="495.85" y="216.85" width="1.0" height="1.0" fill="#333"/>
<rect x="493.08" y="213.36" width="1.0" height="1.0" fill="#111"/>
<rect x="491.99" y="215.15" width="1.0" height="1.0" fill="#555"/>
<rect x="500.96" y="210.93" width="1.0" height="1.0" fill="#777"/>
<rect x="498.32" y="217.8" width="0.8" height="0.8" fill="#777"/>
<rect x="495.14" y="208.45" width="1.1" height="1.1" fill="#555"/>
<rect x="499.83" y="211.82" width="0.8" height="0.8" fill="#333"/>
<rect x="497.55" y="215.09" width="0.8" height="0.8" fill="#777"/>
<rect x="496.66" y="215.08" width="0.8" height="0.8" fill="#111"/>
<rect x="493.59" y="217.22" width="1.1" height="1.1" fill="#333"/>
<rect x="497.87" y="205.66" width="1.0" height="1.0" fill="#999"/>
<rect x="497.62" y="216.57" width="0.9" height="0.9" fill="#333"/>
<rect x="496.22" y="217.08" width="1.1" height="1.1" fill="#111"/>
<rect x="501.29" y="209.57" width="1.0" height="1.0" fill="#111"/>
<rect x="493.72" y="213.65" width="0.8" height="0.8" fill="#777"/>
<rect x="494.89" y="210.31" width="0.9" height="0.9" fill="#555"/>
<rect x="492.8" y="213.3" width="0.9" height="0.9" fill="#999"/>
<rect x="494.14" y="206.79" width="1.1" height="1.1" fill="#333"/>
<rect x="489.72" y="211.04" width="0.8" height="0.8" fill="#999"/>
<rect x="493.6" y="214.6" width="1.1" height="1.1" fill="#333"/>
<rect x="499.09" y="208.91" width="1.1" height="1.1" fill="#333"/>
<rect x="495.18" y="208.45" width="0.9" height="0.9" fill="#999"/>
<rect x="489.71" y="212.85" width="0.9" height="0.9" fill="#333"/>
<rect x="492.18" y="208.73" width="0.9" height="0.9" fill="#999"/>
<rect x="500.16" y="205.39" width="1.0" height="1.0" fill="#555"/>
<rect x="490.32" y="214.59" width="1.0" height="1.0" fill="#333"/>
<rect x="504.57" y="209.11" width="0.9" height="0.9" fill="#111"/>
<rect x="504.34" y="217.16" width="0.9" height="0.9" fill="#777"/>
<rect x="504.72" y="208.13" width="1.1" height="1.1" fill="#555"/>
<rect x="492.29" y="217.09" width="1.0" height="1.0" fill="#111"/>
<rect x="491.11" y="213.82" width="0.8" height="0.8" fill="#111"/>
<rect x="494.48" y="208.19" width="1.0" height="1.0" fill="#333"/>
<rect x="495.61" y="216.75" width="1.1" height="1.1" fill="#999"/>
<rect x="487.6" y="215.63" width="1.1" height="1.1" fill="#777"/>
<rect x="502.3" y="209.99" width="0.9" height="0.9" fill="#999"/>
<rect x="499.39" y="210.37" width="1.1" height="1.1" fill="#777"/>
<rect x="492.98" y="210.56" width="1.1" height="1.1" fill="#111"/>
<rect x="491.74" y="213.67" width="1.0" height="1.0" fill="#333"/>
<rect x="502.37" y="212.57" width="1.1" height="1.1" fill="#111"/>
<rect x="496.57" y="210.09" width="1.0" height="1.0" fill="#333"/>
<rect x="501.12" y="213.82" width="0.8" height="0.8" fill="#777"/>
<rect x="488.17" y="211.75" width="0.9" height="0.9" fill="#333"/>
<rect x="496.59" y="217.17" width="1.1" height="1.1" fill="#999"/>
<rect x="496.97" y="209.27" width="0.8" height="0.8" fill="#999"/>
<rect x="498.69" y="207.62" width="1.0" height="1.0" fill="#999"/>
<rect x="494.68" y="205.81" width="0.9" height="0.9" fill="#333"/>
<rect x="494.37" y="208.61" width="1.0" height="1.0" fill="#111"/>
<rect x="498.66" y="215.51" width="1.1" height="1.1" fill="#777"/>
<rect x="488.58" y="217.42" width="1.0" height="1.0" fill="#777"/>
<rect x="497.65" y="217.09" width="1.1" height="1.1" fill="#555"/>
<rect x="503.95" y="211.97" width="1.1" height="1.1" fill="#333"/>
<rect x="495.59" y="216.51" width="0.9" height="0.9" fill="#111"/>
<rect x="495.71" y="211.49" width="0.9" height="0.9" fill="#333"/>
<rect x="493.68" y="210.41" width="1.1" height="1.1" fill="#777"/>
<rect x="504.93" y="208.65" width="1.1" height="1.1" fill="#333"/>
<rect x="493.71" y="207.29" width="1.1" height="1.1" fill="#555"/>
<rect x="499.53" y="205.27" width="1.1" height="1.1" fill="#333"/>
<rect x="487.55" y="209.21" width="1.0" height="1.0" fill="#555"/>
<rect x="491.79" y="214.91" width="1.1" height="1.1" fill="#777"/>
<rect x="495" y="210.43" width="0.9" height="0.9" fill="#555"/>
<rect x="503.75" y="207.24" width="0.8" height="0.8" fill="#111"/>
<rect x="501.99" y="206.46" width="1.0" height="1.0" fill="#333"/>
<rect x="498.58" y="217.92" width="0.9" height="0.9" fill="#111"/>
<rect x="504.16" y="210.16" width="0.8" height="0.8" fill="#555"/>
<rect x="497.62" y="207.24" width="1.1" height="1.1" fill="#333"/>
<rect x="493.56" y="216.64" width="0.9" height="0.9" fill="#777"/>
<rect x="498.17" y="209.7" width="1.0" height="1.0" fill="#111"/>
<rect x="490.95" y="209.63" width="0.8" height="0.8" fill="#999"/>
<rect x="500.48" y="213.16" width="0.8" height="0.8" fill="#111"/>
<rect x="492.13" y="215.72" width="1.1" height="1.1" fill="#333"/>
<rect x="496.13" y="217.57" width="0.9" height="0.9" fill="#777"/>
<rect x="499.76" y="215.58" width="0.8" height="0.8" fill="#333"/>
<rect x="490.31" y="214.68" width="1.1" height="1.1" fill="#999"/>
<rect x="499.14" y="207.45" width="1.1" height="1.1" fill="#555"/>
<rect x="494.83" y="205.61" width="0.9" height="0.9" fill="#111"/>
<rect x="498.65" y="210.45" width="0.8" height="0.8" fill="#111"/>
<rect x="498.17" y="209.78" width="0.8" height="0.8" fill="#555"/>
<rect x="496.44" y="212.55" width="0.8" height="0.8" fill="#333"/>
<rect x="491.23" y="213.47" width="1.0" height="1.0" fill="#333"/>
<rect x="489.15" y="210.12" width="1.1" height="1.1" fill="#555"/>
<rect x="501.12" y="211.6" width="1.0" height="1.0" fill="#333"/>
<rect x="495.12" y="213.38" width="0.8" height="0.8" fill="#999"/>
<rect x="501.97" y="215.02" width="1.1" height="1.1" fill="#777"/>
<rect x="493.34" y="205.24" width="1.0" height="1.0" fill="#999"/>
<rect x="504.56" y="210.18" width="1.0" height="1.0" fill="#111"/>
<rect x="490.87" y="209.33" width="0.8" height="0.8" fill="#333"/>
<rect x="501.22" y="217.73" width="1.1" height="1.1" fill="#999"/>
<rect x="497.04" y="217.65" width="0.8" height="0.8" fill="#555"/>
<rect x="487.61" y="216.23" width="0.8" height="0.8" fill="#777"/>
<rect x="501.31" y="206.39" width="1.1" height="1.1" fill="#999"/>
<rect x="498.29" y="210.58" width="0.8" height="0.8" fill="#999"/>
<rect x="491.22" y="210" width="0.9" height="0.9" fill="#777"/>
<rect x="489.27" y="216.32" width="1.1" height="1.1" fill="#111"/>
<rect x="501.05" y="206.33" width="1.0" height="1.0" fill="#111"/>
<rect x="502.76" y="216.79" width="1.0" height="1.0" fill="#555"/>
<rect x="502.59" y="216.29" width="1.0" height="1.0" fill="#111"/>
<rect x="487.86" y="211.43" width="0.8" height="0.8" fill="#999"/>
<rect x="496.21" y="212.04" width="1.1" height="1.1" fill="#111"/>
<rect x="497.57" y="206.26" width="0.8" height="0.8" fill="#777"/>
<rect x="487.75" y="213.84" width="0.9" height="0.9" fill="#999"/>
<rect x="495.82" y="213.51" width="0.8" height="0.8" fill="#111"/>
<rect x="498.78" y="215.98" width="0.8" height="0.8" fill="#333"/>
<rect x="494.97" y="217.95" width="0.8" height="0.8" fill="#111"/>
<rect x="491.32" y="216.97" width="0.8" height="0.8" fill="#777"/>
<rect x="492.32" y="211.39" width="0.9" height="0.9" fill="#777"/>
<rect x="503.65" y="214.11" width="0.8" height="0.8" fill="#333"/>
<rect x="492.63" y="211.55" width="1.1" height="1.1" fill="#777"/>
<rect x="499.22" y="206.7" width="0.8" height="0.8" fill="#111"/>
<rect x="487.7" y="217.92" width="0.8" height="0.8" fill="#999"/>
<rect x="494.31" y="214.78" width="0.9" height="0.9" fill="#999"/>
<rect x="504.26" y="207.53" width="0.8" height="0.8" fill="#999"/>
<rect x="493.03" y="205.8" width="1.1" height="1.1" fill="#777"/>
<rect x="499.35" y="216.72" width="1.0" height="1.0" fill="#111"/>
<rect x="504.19" y="216.51" width="1.1" height="1.1" fill="#777"/>
<rect x="494.25" y="208.26" width="1.0" height="1.0" fill="#555"/>
<rect x="492.62" y="217.55" width="1.0" height="1.0" fill="#999"/>
<rect x="502.72" y="209.15" width="0.9" height="0.9" fill="#111"/>
<rect x="498.02" y="214.83" width="0.9" height="0.9" fill="#777"/>
<rect x="494.09" y="209.75" width="0.9" height="0.9" fill="#999"/>
<rect x="501.63" y="215.14" width="1.0" height="1.0" fill="#111"/>
<rect x="492.1" y="213.38" width="0.8" height="0.8" fill="#999"/>
<rect x="492.55" y="216.76" width="0.9" height="0.9" fill="#999"/>
<rect x="492.29" y="207.29" width="1.1" height="1.1" fill="#999"/>
<rect x="493.57" y="217.32" width="1.1" height="1.1" fill="#999"/>
<rect x="501.45" y="216.11" width="1.0" height="1.0" fill="#333"/>
<rect x="498.12" y="209.85" width="0.9" height="0.9" fill="#777"/>
<rect x="503.7" y="211.15" width="1.1" height="1.1" fill="#111"/>
<rect x="495.55" y="217.3" width="0.8" height="0.8" fill="#555"/>
<rect x="491.58" y="211.24" width="1.0" height="1.0" fill="#555"/>
<rect x="495.84" y="211.11" width="0.9" height="0.9" fill="#333"/>
<rect x="490.87" y="216.33" width="1.0" height="1.0" fill="#555"/>
<rect x="497.61" y="214.2" width="0.9" height="0.9" fill="#999"/>
<path d="M487,218 L487,210 C490,207.5 494,207 497,208 C500,206.5 503,207.5 505,209.5 L505,218 Z" fill="#111" opacity="0.8"/>
<rect x="491.93" y="202.77" width="1.0" height="1.0" fill="#777"/>
<rect x="503.09" y="208.28" width="0.8" height="0.8" fill="#777"/>
<rect x="490.31" y="206.03" width="1.0" height="1.0" fill="#555"/>
<rect x="496.85" y="211.79" width="0.9" height="0.9" fill="#111"/>
<rect x="505.33" y="203.34" width="0.9" height="0.9" fill="#777"/>
<rect x="492.21" y="204.21" width="0.8" height="0.8" fill="#777"/>
<rect x="504.54" y="204.33" width="0.9" height="0.9" fill="#999"/>
<rect x="492.07" y="211.62" width="0.9" height="0.9" fill="#333"/>
<rect x="494.31" y="211.72" width="1.0" height="1.0" fill="#111"/>
<rect x="503.17" y="207.42" width="1.1" height="1.1" fill="#111"/>
<rect x="504.1" y="204.94" width="1.0" height="1.0" fill="#111"/>
<rect x="493.24" y="209.67" width="1.1" height="1.1" fill="#111"/>
<rect x="490.79" y="203.5" width="0.9" height="0.9" fill="#555"/>
<rect x="505.35" y="209.78" width="1.0" height="1.0" fill="#111"/>
<rect x="504.44" y="211.41" width="0.8" height="0.8" fill="#999"/>
<rect x="502.57" y="211.53" width="1.1" height="1.1" fill="#999"/>
<rect x="488.5" y="210.55" width="0.9" height="0.9" fill="#111"/>
<rect x="499.68" y="209.01" width="1.1" height="1.1" fill="#999"/>
<rect x="501.14" y="210.95" width="1.0" height="1.0" fill="#555"/>
<rect x="492.13" y="210.76" width="1.1" height="1.1" fill="#777"/>
<rect x="490.53" y="209.62" width="0.8" height="0.8" fill="#333"/>
<rect x="495.92" y="202.87" width="0.9" height="0.9" fill="#111"/>
<rect x="504.2" y="209.79" width="1.0" height="1.0" fill="#999"/>
<rect x="503.5" y="210.6" width="0.8" height="0.8" fill="#777"/>
<rect x="504.17" y="208.15" width="0.8" height="0.8" fill="#111"/>
<rect x="495.64" y="208.6" width="1.1" height="1.1" fill="#333"/>
<rect x="489.58" y="208.34" width="0.9" height="0.9" fill="#555"/>
<rect x="500.75" y="210.2" width="0.9" height="0.9" fill="#777"/>
<rect x="495.4" y="210.51" width="1.1" height="1.1" fill="#777"/>
<rect x="491.94" y="211.75" width="1.0" height="1.0" fill="#999"/>
<rect x="493.52" y="210.32" width="0.8" height="0.8" fill="#777"/>
<rect x="493.23" y="202.97" width="0.9" height="0.9" fill="#111"/>
<rect x="505.12" y="211.43" width="1.1" height="1.1" fill="#333"/>
<rect x="502.54" y="210.81" width="1.0" height="1.0" fill="#333"/>
<rect x="495.28" y="209.38" width="0.9" height="0.9" fill="#333"/>
<rect x="489.26" y="209.11" width="0.8" height="0.8" fill="#333"/>
<rect x="502.48" y="202.21" width="0.8" height="0.8" fill="#333"/>
<rect x="495.46" y="206.92" width="0.9" height="0.9" fill="#999"/>
<rect x="495.47" y="204.1" width="1.0" height="1.0" fill="#999"/>
<rect x="490.84" y="207.65" width="0.9" height="0.9" fill="#777"/>
<rect x="492.48" y="210.19" width="0.9" height="0.9" fill="#333"/>
<rect x="500.31" y="210.03" width="0.8" height="0.8" fill="#111"/>
<rect x="503.51" y="204.69" width="0.9" height="0.9" fill="#555"/>
<rect x="491.21" y="205.88" width="1.0" height="1.0" fill="#333"/>
<rect x="491.14" y="211.34" width="1.1" height="1.1" fill="#999"/>
<rect x="502.64" y="202.84" width="1.0" height="1.0" fill="#999"/>
<rect x="493.53" y="203.58" width="0.8" height="0.8" fill="#777"/>
<rect x="487.78" y="202.9" width="0.9" height="0.9" fill="#777"/>
<rect x="503.2" y="209.34" width="1.0" height="1.0" fill="#333"/>
<rect x="488.16" y="204.98" width="0.8" height="0.8" fill="#999"/>
<rect x="493.91" y="202.68" width="0.8" height="0.8" fill="#999"/>
<rect x="489.67" y="204.85" width="1.1" height="1.1" fill="#555"/>
<rect x="497.87" y="203.02" width="0.8" height="0.8" fill="#555"/>
<rect x="504.67" y="207.05" width="0.8" height="0.8" fill="#999"/>
<rect x="497.05" y="206.63" width="0.9" height="0.9" fill="#111"/>
<rect x="504.91" y="209.76" width="0.9" height="0.9" fill="#333"/>
<rect x="489.35" y="209.5" width="0.8" height="0.8" fill="#111"/>
<rect x="489.24" y="205.01" width="1.0" height="1.0" fill="#333"/>
<rect x="487.82" y="206.01" width="1.1" height="1.1" fill="#999"/>
<rect x="496.91" y="204.97" width="1.0" height="1.0" fill="#111"/>
<rect x="503.15" y="204.83" width="1.0" height="1.0" fill="#111"/>
<rect x="489.71" y="207.06" width="1.0" height="1.0" fill="#999"/>
<rect x="489.48" y="210.78" width="0.9" height="0.9" fill="#333"/>
<rect x="503" y="210.53" width="1.1" height="1.1" fill="#999"/>
<rect x="500.94" y="210.36" width="1.1" height="1.1" fill="#111"/>
<rect x="499.99" y="206.03" width="0.8" height="0.8" fill="#999"/>
<rect x="494.62" y="202.59" width="1.0" height="1.0" fill="#555"/>
<rect x="494.71" y="203.61" width="1.0" height="1.0" fill="#777"/>
<rect x="502.17" y="203.52" width="1.0" height="1.0" fill="#111"/>
<rect x="496.81" y="202.42" width="0.9" height="0.9" fill="#555"/>
<rect x="503.17" y="205.37" width="1.0" height="1.0" fill="#111"/>
<rect x="489.46" y="210.13" width="1.1" height="1.1" fill="#555"/>
<rect x="491.11" y="205.31" width="0.9" height="0.9" fill="#333"/>
<rect x="495.07" y="208.03" width="0.8" height="0.8" fill="#777"/>
<rect x="502.07" y="203.16" width="0.8" height="0.8" fill="#111"/>
<rect x="503.08" y="205.79" width="1.0" height="1.0" fill="#999"/>
<rect x="498.81" y="203.94" width="0.8" height="0.8" fill="#111"/>
<rect x="492.01" y="206.8" width="0.9" height="0.9" fill="#777"/>
<rect x="504.62" y="209.12" width="1.0" height="1.0" fill="#555"/>
<rect x="499.16" y="210.8" width="1.0" height="1.0" fill="#999"/>
<rect x="489.02" y="206.1" width="1.1" height="1.1" fill="#333"/>
<rect x="489.73" y="210.69" width="1.1" height="1.1" fill="#555"/>
<rect x="497.89" y="209.26" width="1.0" height="1.0" fill="#111"/>
<rect x="502.62" y="205.9" width="0.9" height="0.9" fill="#999"/>
<rect x="499.21" y="209.99" width="1.1" height="1.1" fill="#555"/>
<rect x="503.55" y="208.96" width="1.1" height="1.1" fill="#777"/>
<rect x="502.24" y="211.69" width="0.9" height="0.9" fill="#555"/>
<rect x="490.9" y="206.54" width="1.1" height="1.1" fill="#999"/>
<rect x="487.71" y="208.47" width="1.0" height="1.0" fill="#333"/>
<rect x="497.52" y="207.09" width="0.9" height="0.9" fill="#555"/>
<rect x="504.98" y="226.84" width="0.8" height="0.8" fill="#555"/>
<rect x="506.53" y="239.56" width="1.1" height="1.1" fill="#333"/>
<rect x="507.67" y="239.38" width="0.9" height="0.9" fill="#333"/>
<rect x="508.45" y="229.67" width="1.1" height="1.1" fill="#555"/>
<rect x="505.19" y="239.43" width="1.0" height="1.0" fill="#555"/>
<rect x="507.61" y="234.47" width="1.0" height="1.0" fill="#999"/>
<rect x="507.42" y="228.74" width="1.1" height="1.1" fill="#555"/>
<rect x="507.85" y="249.87" width="1.1" height="1.1" fill="#333"/>
<rect x="505.49" y="220.21" width="1.1" height="1.1" fill="#555"/>
<rect x="507.75" y="241.62" width="1.1" height="1.1" fill="#333"/>
<rect x="507.76" y="229.22" width="1.0" height="1.0" fill="#777"/>
<rect x="504.96" y="238.28" width="1.0" height="1.0" fill="#999"/>
<rect x="503.53" y="227.63" width="1.1" height="1.1" fill="#999"/>
<rect x="505.72" y="244.47" width="0.9" height="0.9" fill="#777"/>
<rect x="505.68" y="238.69" width="0.8" height="0.8" fill="#555"/>
<rect x="507.61" y="240.1" width="1.0" height="1.0" fill="#555"/>
<rect x="504.52" y="237.21" width="0.8" height="0.8" fill="#333"/>
<rect x="503.74" y="233.05" width="1.0" height="1.0" fill="#999"/>
<rect x="508.1" y="226.8" width="1.1" height="1.1" fill="#999"/>
<rect x="505.45" y="239.27" width="1.1" height="1.1" fill="#777"/>
<rect x="508.24" y="229.71" width="0.8" height="0.8" fill="#555"/>
<rect x="505.55" y="234.97" width="0.9" height="0.9" fill="#555"/>
<rect x="508.32" y="235.4" width="1.0" height="1.0" fill="#999"/>
<rect x="506.96" y="227.61" width="0.9" height="0.9" fill="#333"/>
<rect x="505.31" y="239" width="1.0" height="1.0" fill="#333"/>
<rect x="506.06" y="246.68" width="1.0" height="1.0" fill="#777"/>
<rect x="507.6" y="220.29" width="0.9" height="0.9" fill="#999"/>
<rect x="506.12" y="225.52" width="0.9" height="0.9" fill="#555"/>
<rect x="505.56" y="248.19" width="1.0" height="1.0" fill="#333"/>
<rect x="506.35" y="231.06" width="1.1" height="1.1" fill="#333"/>
<rect x="503.55" y="249.92" width="1.0" height="1.0" fill="#333"/>
<rect x="505.49" y="247.05" width="0.8" height="0.8" fill="#333"/>
<rect x="504.48" y="235.06" width="0.9" height="0.9" fill="#777"/>
<rect x="506.37" y="237.67" width="0.9" height="0.9" fill="#333"/>
<rect x="504.28" y="227.22" width="0.8" height="0.8" fill="#333"/>
<rect x="504" y="244.88" width="1.1" height="1.1" fill="#999"/>
<rect x="506.57" y="225.8" width="0.8" height="0.8" fill="#333"/>
<rect x="506.92" y="232.63" width="0.9" height="0.9" fill="#555"/>
<rect x="505.27" y="244.92" width="0.8" height="0.8" fill="#777"/>
<rect x="507.8" y="221.57" width="1.0" height="1.0" fill="#333"/>
<rect x="504.46" y="231.28" width="0.8" height="0.8" fill="#333"/>
<rect x="504.6" y="238.12" width="1.1" height="1.1" fill="#333"/>
<rect x="503.77" y="242.85" width="0.8" height="0.8" fill="#555"/>
<rect x="504.3" y="232.39" width="1.0" height="1.0" fill="#555"/>
<rect x="503.53" y="223.99" width="1.0" height="1.0" fill="#999"/>
<rect x="485.55" y="242.94" width="0.8" height="0.8" fill="#999"/>
<rect x="485.11" y="239.09" width="1.1" height="1.1" fill="#555"/>
<rect x="485.27" y="225.49" width="0.8" height="0.8" fill="#999"/>
<rect x="486.48" y="243.19" width="0.9" height="0.9" fill="#555"/>
<rect x="485.4" y="244.78" width="1.1" height="1.1" fill="#777"/>
<rect x="485.9" y="246.78" width="1.0" height="1.0" fill="#999"/>
<rect x="485.51" y="248.17" width="1.1" height="1.1" fill="#333"/>
<rect x="486.56" y="240.17" width="1.1" height="1.1" fill="#555"/>
<rect x="484.98" y="242.06" width="1.1" height="1.1" fill="#555"/>
<rect x="484.59" y="231.4" width="0.9" height="0.9" fill="#777"/>
<rect x="485.1" y="246.36" width="1.0" height="1.0" fill="#555"/>
<rect x="485.86" y="227.95" width="1.1" height="1.1" fill="#999"/>
<rect x="486.59" y="227.46" width="1.0" height="1.0" fill="#555"/>
<rect x="485.38" y="229.77" width="0.9" height="0.9" fill="#999"/>
<rect x="485.24" y="236.67" width="0.9" height="0.9" fill="#555"/>
<rect x="486.65" y="231.09" width="1.1" height="1.1" fill="#777"/>
<rect x="485.97" y="239.7" width="1.1" height="1.1" fill="#555"/>
<rect x="486.02" y="244.05" width="0.8" height="0.8" fill="#333"/>
<rect x="485.86" y="242.43" width="0.8" height="0.8" fill="#999"/>
<rect x="486.14" y="234.1" width="0.8" height="0.8" fill="#777"/>
<rect x="485.47" y="247.59" width="0.9" height="0.9" fill="#555"/>
<rect x="485.3" y="231.44" width="0.8" height="0.8" fill="#333"/>
<rect x="485.9" y="239.88" width="0.9" height="0.9" fill="#777"/>
<rect x="484.66" y="241.28" width="1.0" height="1.0" fill="#555"/>
<rect x="484.82" y="229.93" width="1.0" height="1.0" fill="#777"/>
<rect x="97.44" y="192.57" width="0.9" height="0.9" fill="#bbb"/>
<rect x="103.3" y="209.69" width="1.0" height="1.0" fill="#aaa"/>
<rect x="102.87" y="211.82" width="1.1" height="1.1" fill="#bbb"/>
<rect x="95.73" y="194.28" width="0.8" height="0.8" fill="#aaa"/>
<rect x="95" y="210.67" width="0.9" height="0.9" fill="#bbb"/>
<rect x="100.84" y="211.66" width="0.9" height="0.9" fill="#999"/>
<rect x="198.6" y="196.68" width="1.1" height="1.1" fill="#999"/>
<rect x="202.6" y="201.83" width="0.9" height="0.9" fill="#bbb"/>
<rect x="200.34" y="208.79" width="1.0" height="1.0" fill="#aaa"/>
<rect x="205.03" y="198.93" width="1.0" height="1.0" fill="#bbb"/>
<rect x="205.16" y="210.72" width="1.0" height="1.0" fill="#bbb"/>
<rect x="204.71" y="193.5" width="0.8" height="0.8" fill="#bbb"/>
<rect x="307.69" y="198.65" width="1.0" height="1.0" fill="#999"/>
<rect x="298.52" y="192.41" width="0.8" height="0.8" fill="#bbb"/>
<rect x="301.01" y="197.02" width="0.9" height="0.9" fill="#bbb"/>
<rect x="299.37" y="211.04" width="1.1" height="1.1" fill="#aaa"/>
<rect x="307.16" y="198.38" width="1.1" height="1.1" fill="#bbb"/>
<rect x="302.1" y="198.76" width="1.1" height="1.1" fill="#999"/>
<rect x="97.6" y="208.68" width="0.8" height="0.8" fill="#999"/>
<rect x="95.16" y="217.37" width="0.8" height="0.8" fill="#777"/>
<rect x="92.71" y="211.55" width="0.8" height="0.8" fill="#777"/>
<rect x="98.02" y="204.03" width="0.9" height="0.9" fill="#555"/>
<rect x="99.54" y="211.57" width="0.8" height="0.8" fill="#555"/>
<rect x="101.38" y="210.62" width="1.0" height="1.0" fill="#999"/>
<rect x="95.64" y="217.4" width="0.8" height="0.8" fill="#999"/>
<rect x="100.81" y="204.79" width="1.0" height="1.0" fill="#777"/>
<rect x="98.4" y="217.11" width="0.9" height="0.9" fill="#555"/>
<rect x="106.24" y="211.7" width="1.0" height="1.0" fill="#333"/>
<rect x="93.94" y="210.8" width="1.0" height="1.0" fill="#555"/>
<rect x="103.56" y="203.59" width="0.8" height="0.8" fill="#999"/>
<rect x="102.17" y="215.53" width="0.8" height="0.8" fill="#555"/>
<rect x="101.93" y="217.35" width="0.9" height="0.9" fill="#777"/>
<rect x="101.82" y="214.51" width="0.8" height="0.8" fill="#333"/>
<rect x="104.71" y="215.88" width="1.0" height="1.0" fill="#999"/>
<rect x="199.81" y="217.33" width="0.9" height="0.9" fill="#333"/>
<rect x="202.38" y="203.23" width="0.8" height="0.8" fill="#999"/>
<rect x="200.95" y="209.54" width="0.8" height="0.8" fill="#777"/>
<rect x="198.31" y="211.41" width="0.9" height="0.9" fill="#999"/>
<rect x="202.39" y="217.4" width="1.0" height="1.0" fill="#333"/>
<rect x="204.49" y="216.22" width="1.0" height="1.0" fill="#777"/>
<rect x="201.04" y="217.39" width="0.8" height="0.8" fill="#999"/>
<rect x="202.64" y="216.14" width="1.0" height="1.0" fill="#555"/>
<rect x="194.7" y="210.7" width="1.0" height="1.0" fill="#333"/>
<rect x="199.99" y="207.47" width="0.9" height="0.9" fill="#777"/>
<rect x="203.24" y="215.92" width="0.8" height="0.8" fill="#777"/>
<rect x="206.14" y="213.03" width="0.9" height="0.9" fill="#777"/>
<rect x="201.06" y="212.77" width="0.8" height="0.8" fill="#999"/>
<rect x="201.87" y="204.54" width="0.9" height="0.9" fill="#999"/>
<rect x="199.24" y="216.11" width="0.8" height="0.8" fill="#333"/>
<rect x="201.01" y="210.58" width="0.8" height="0.8" fill="#555"/>
<rect x="193.56" y="217.28" width="0.9" height="0.9" fill="#333"/>
<rect x="203.77" y="214.09" width="1.0" height="1.0" fill="#555"/>
<rect x="305.24" y="212.03" width="0.8" height="0.8" fill="#999"/>
<rect x="305.97" y="216.24" width="1.0" height="1.0" fill="#333"/>
<rect x="304.57" y="217.34" width="1.0" height="1.0" fill="#333"/>
<rect x="301.52" y="204.24" width="1.0" height="1.0" fill="#555"/>
<rect x="306.46" y="214.57" width="1.0" height="1.0" fill="#777"/>
<rect x="307.04" y="216.85" width="1.0" height="1.0" fill="#333"/>
<rect x="304.61" y="203.81" width="0.9" height="0.9" fill="#555"/>
<rect x="307.59" y="204.08" width="0.8" height="0.8" fill="#333"/>
<rect x="92.5" y="223.35" width="1.0" height="1.0" fill="#bbb"/>
<rect x="91.09" y="222.63" width="1.1" height="1.1" fill="#aaa"/>
<rect x="91.91" y="224.91" width="0.8" height="0.8" fill="#aaa"/>
<rect x="93.63" y="224.22" width="1.1" height="1.1" fill="#bbb"/>
<rect x="92.22" y="224.82" width="1.0" height="1.0" fill="#bbb"/>
<rect x="190.99" y="218.45" width="0.9" height="0.9" fill="#aaa"/>
<rect x="191.08" y="222.83" width="0.9" height="0.9" fill="#888"/>
<rect x="187.62" y="218.88" width="0.8" height="0.8" fill="#bbb"/>
<rect x="187.99" y="219.3" width="0.8" height="0.8" fill="#bbb"/>
<rect x="187.69" y="220.64" width="1.1" height="1.1" fill="#bbb"/>
<rect x="293.82" y="223.88" width="0.8" height="0.8" fill="#bbb"/>
<rect x="297.88" y="219.82" width="0.8" height="0.8" fill="#bbb"/>
<rect x="298.81" y="221.88" width="0.9" height="0.9" fill="#aaa"/>
<rect x="298.91" y="223.04" width="0.8" height="0.8" fill="#bbb"/>
<rect x="297.01" y="219.36" width="0.8" height="0.8" fill="#bbb"/>
<rect x="107.84" y="227.65" width="0.9" height="0.9" fill="#bbb"/>
<rect x="109.87" y="236.55" width="0.8" height="0.8" fill="#aaa"/>
<rect x="106.55" y="226.03" width="1.1" height="1.1" fill="#888"/>
<rect x="106.95" y="233.3" width="0.9" height="0.9" fill="#888"/>
<rect x="107.84" y="237.83" width="1.1" height="1.1" fill="#888"/>
<rect x="211.63" y="238.42" width="0.8" height="0.8" fill="#888"/>
<rect x="211.67" y="224.33" width="1.0" height="1.0" fill="#888"/>
<rect x="210.98" y="233.85" width="0.8" height="0.8" fill="#bbb"/>
<rect x="211.3" y="237.79" width="1.0" height="1.0" fill="#aaa"/>
<rect x="210.89" y="239.22" width="1.0" height="1.0" fill="#bbb"/>
<polygon points="98.2,217.5 100.6,217.5 103,221.5 95.8,221.5" fill="#000"/>
<polygon points="199.1,217.5 201.5,217.5 204.1,221.5 196.5,221.5" fill="#000"/>
<text x="0.4" y="293.2" font-size="11.9" text-anchor="start" font-weight="bold" >E</text>
<line x1="34.5" y1="315.5" x2="34.5" y2="399.6" stroke="#000" stroke-width="1.5" />
<line x1="31.5" y1="316" x2="34.5" y2="316" stroke="#000" stroke-width="1.2" />
<text transform="translate(31.2,318.75) scale(1.0,1)" font-size="7.7" text-anchor="end" font-weight="bold" >10.0</text>
<line x1="31.5" y1="336.75" x2="34.5" y2="336.75" stroke="#000" stroke-width="1.2" />
<text transform="translate(31.2,339.5) scale(1.0,1)" font-size="7.7" text-anchor="end" font-weight="bold" >7.5</text>
<line x1="31.5" y1="357.5" x2="34.5" y2="357.5" stroke="#000" stroke-width="1.2" />
<text transform="translate(31.2,360.25) scale(1.0,1)" font-size="7.7" text-anchor="end" font-weight="bold" >5.0</text>
<line x1="31.5" y1="378.25" x2="34.5" y2="378.25" stroke="#000" stroke-width="1.2" />
<text transform="translate(31.2,381) scale(1.0,1)" font-size="7.7" text-anchor="end" font-weight="bold" >2.5</text>
<line x1="31.5" y1="399" x2="34.5" y2="399" stroke="#000" stroke-width="1.2" />
<text transform="translate(31.2,401.75) scale(1.0,1)" font-size="7.7" text-anchor="end" font-weight="bold" >0.0</text>
<line x1="33.9" y1="399" x2="47" y2="399" stroke="#000" stroke-width="1.5" />
<line x1="47" y1="398.4" x2="47" y2="402.2" stroke="#000" stroke-width="1.2" />
<line x1="53.4" y1="399" x2="120.8" y2="399" stroke="#000" stroke-width="1.5" />
<line x1="53.4" y1="398.4" x2="53.4" y2="402.2" stroke="#000" stroke-width="1.2" />
<text transform="translate(53.4,410.2) scale(1.0,1)" font-size="7.7" text-anchor="middle" font-weight="bold" >0</text>
<line x1="72" y1="398.4" x2="72" y2="402.2" stroke="#000" stroke-width="1.2" />
<text transform="translate(72,410.2) scale(1.0,1)" font-size="7.7" text-anchor="middle" font-weight="bold" >100</text>
<line x1="90.6" y1="398.4" x2="90.6" y2="402.2" stroke="#000" stroke-width="1.2" />
<text transform="translate(90.6,410.2) scale(1.0,1)" font-size="7.7" text-anchor="middle" font-weight="bold" >200</text>
<line x1="109.2" y1="398.4" x2="109.2" y2="402.2" stroke="#000" stroke-width="1.2" />
<text transform="translate(109.2,410.2) scale(1.0,1)" font-size="7.7" text-anchor="middle" font-weight="bold" >300</text>
<line x1="120.8" y1="398.4" x2="120.8" y2="402.2" stroke="#000" stroke-width="1.2" />
<line x1="132.5" y1="399" x2="152.2" y2="399" stroke="#000" stroke-width="1.5" />
<line x1="132.5" y1="398.4" x2="132.5" y2="402.2" stroke="#000" stroke-width="1.2" />
<line x1="152.2" y1="398.4" x2="152.2" y2="402.2" stroke="#000" stroke-width="1.2" />
<text transform="translate(132.5,410.2) scale(1.0,1)" font-size="7.7" text-anchor="middle" font-weight="bold" >700</text>
<text transform="translate(151.3,410.2) scale(1.0,1)" font-size="7.7" text-anchor="middle" font-weight="bold" >800</text>
<text x="96.5" y="419.3" font-size="8.2" text-anchor="middle" font-weight="bold" >Day</text>
<text transform="translate(9.4,356.4) rotate(-90)" font-size="7.95" text-anchor="middle" font-weight="bold">EBV-specific CD8<tspan font-size="4.5" dy="-3">+</tspan><tspan dy="3"> </tspan>cells, %</text>
<text transform="translate(45.3,343.2) rotate(-90)" font-size="8.4" text-anchor="start" font-weight="bold">Donor</text>
<circle cx="43.3" cy="353.1" r="2.4" fill="#000"/>
<circle cx="43.3" cy="367.3" r="2.2" fill="#bbb" stroke="#000" stroke-width="1.1"/>
<line x1="40.5" y1="372" x2="46.1" y2="377.6" stroke="#000" stroke-width="1.1" />
<line x1="40.5" y1="377.6" x2="46.1" y2="372" stroke="#000" stroke-width="1.1" />
<polyline points="60.6,385.3 62.1,349.5 70.7,338.5 79.9,333.3 90.3,341.8" stroke="#000" stroke-width="1.35" fill="none" stroke-linejoin="round" />
<polyline points="62.1,377 63.5,356.8 116.6,341.1" stroke="#000" stroke-width="1.35" fill="none" stroke-linejoin="round" />
<polyline points="74.6,344.9 115.8,354.4" stroke="#000" stroke-width="1.35" fill="none" stroke-linejoin="round" />
<line x1="84.9" y1="367.9" x2="116.3" y2="364.2" stroke="#000" stroke-width="1.35" />
<line x1="126.3" y1="363.4" x2="141.6" y2="361.9" stroke="#000" stroke-width="1.35" />
<circle cx="60.6" cy="385.3" r="2.35" fill="#bdbdbd" stroke="#000" stroke-width="1.1"/>
<circle cx="62.1" cy="349.5" r="2.35" fill="#bdbdbd" stroke="#000" stroke-width="1.1"/>
<circle cx="70.7" cy="338.5" r="2.35" fill="#bdbdbd" stroke="#000" stroke-width="1.1"/>
<circle cx="79.9" cy="333.3" r="2.35" fill="#bdbdbd" stroke="#000" stroke-width="1.1"/>
<circle cx="90.3" cy="341.8" r="2.35" fill="#bdbdbd" stroke="#000" stroke-width="1.1"/>
<line x1="59.3" y1="374.2" x2="64.9" y2="379.8" stroke="#000" stroke-width="1.1" />
<line x1="59.3" y1="379.8" x2="64.9" y2="374.2" stroke="#000" stroke-width="1.1" />
<line x1="60.7" y1="354" x2="66.3" y2="359.6" stroke="#000" stroke-width="1.1" />
<line x1="60.7" y1="359.6" x2="66.3" y2="354" stroke="#000" stroke-width="1.1" />
<line x1="113.8" y1="338.3" x2="119.4" y2="343.9" stroke="#000" stroke-width="1.1" />
<line x1="113.8" y1="343.9" x2="119.4" y2="338.3" stroke="#000" stroke-width="1.1" />
<circle cx="74.6" cy="344.9" r="2.4" fill="#000"/>
<circle cx="115.8" cy="354.4" r="2.4" fill="#000"/>
<circle cx="84.9" cy="367.9" r="2.3" fill="#fff" stroke="#000" stroke-width="1.1"/>
<circle cx="141.6" cy="361.9" r="2.3" fill="#fff" stroke="#000" stroke-width="1.1"/>
<circle cx="126.2" cy="317.1" r="2.5" fill="#000"/>
<circle cx="126.2" cy="326.8" r="2.1" fill="#fff" stroke="#000" stroke-width="1.1"/>
<line x1="123.3" y1="333.7" x2="128.9" y2="339.3" stroke="#000" stroke-width="1.1" />
<line x1="123.3" y1="339.3" x2="128.9" y2="333.7" stroke="#000" stroke-width="1.1" />
<circle cx="126.1" cy="345.9" r="2.1" fill="#bbb" stroke="#000" stroke-width="1.1"/>
<text x="134.1" y="319.7" font-size="8.2" text-anchor="start" font-weight="normal" >UPN 03</text>
<text x="134.1" y="329.3" font-size="8.2" text-anchor="start" font-weight="normal" >UPN 07</text>
<text x="134.1" y="338.9" font-size="8.2" text-anchor="start" font-weight="normal" >UPN 21</text>
<text x="134.1" y="348.5" font-size="8.2" text-anchor="start" font-weight="normal" >UPN 24</text>
</g>
</svg>
</body></html>
